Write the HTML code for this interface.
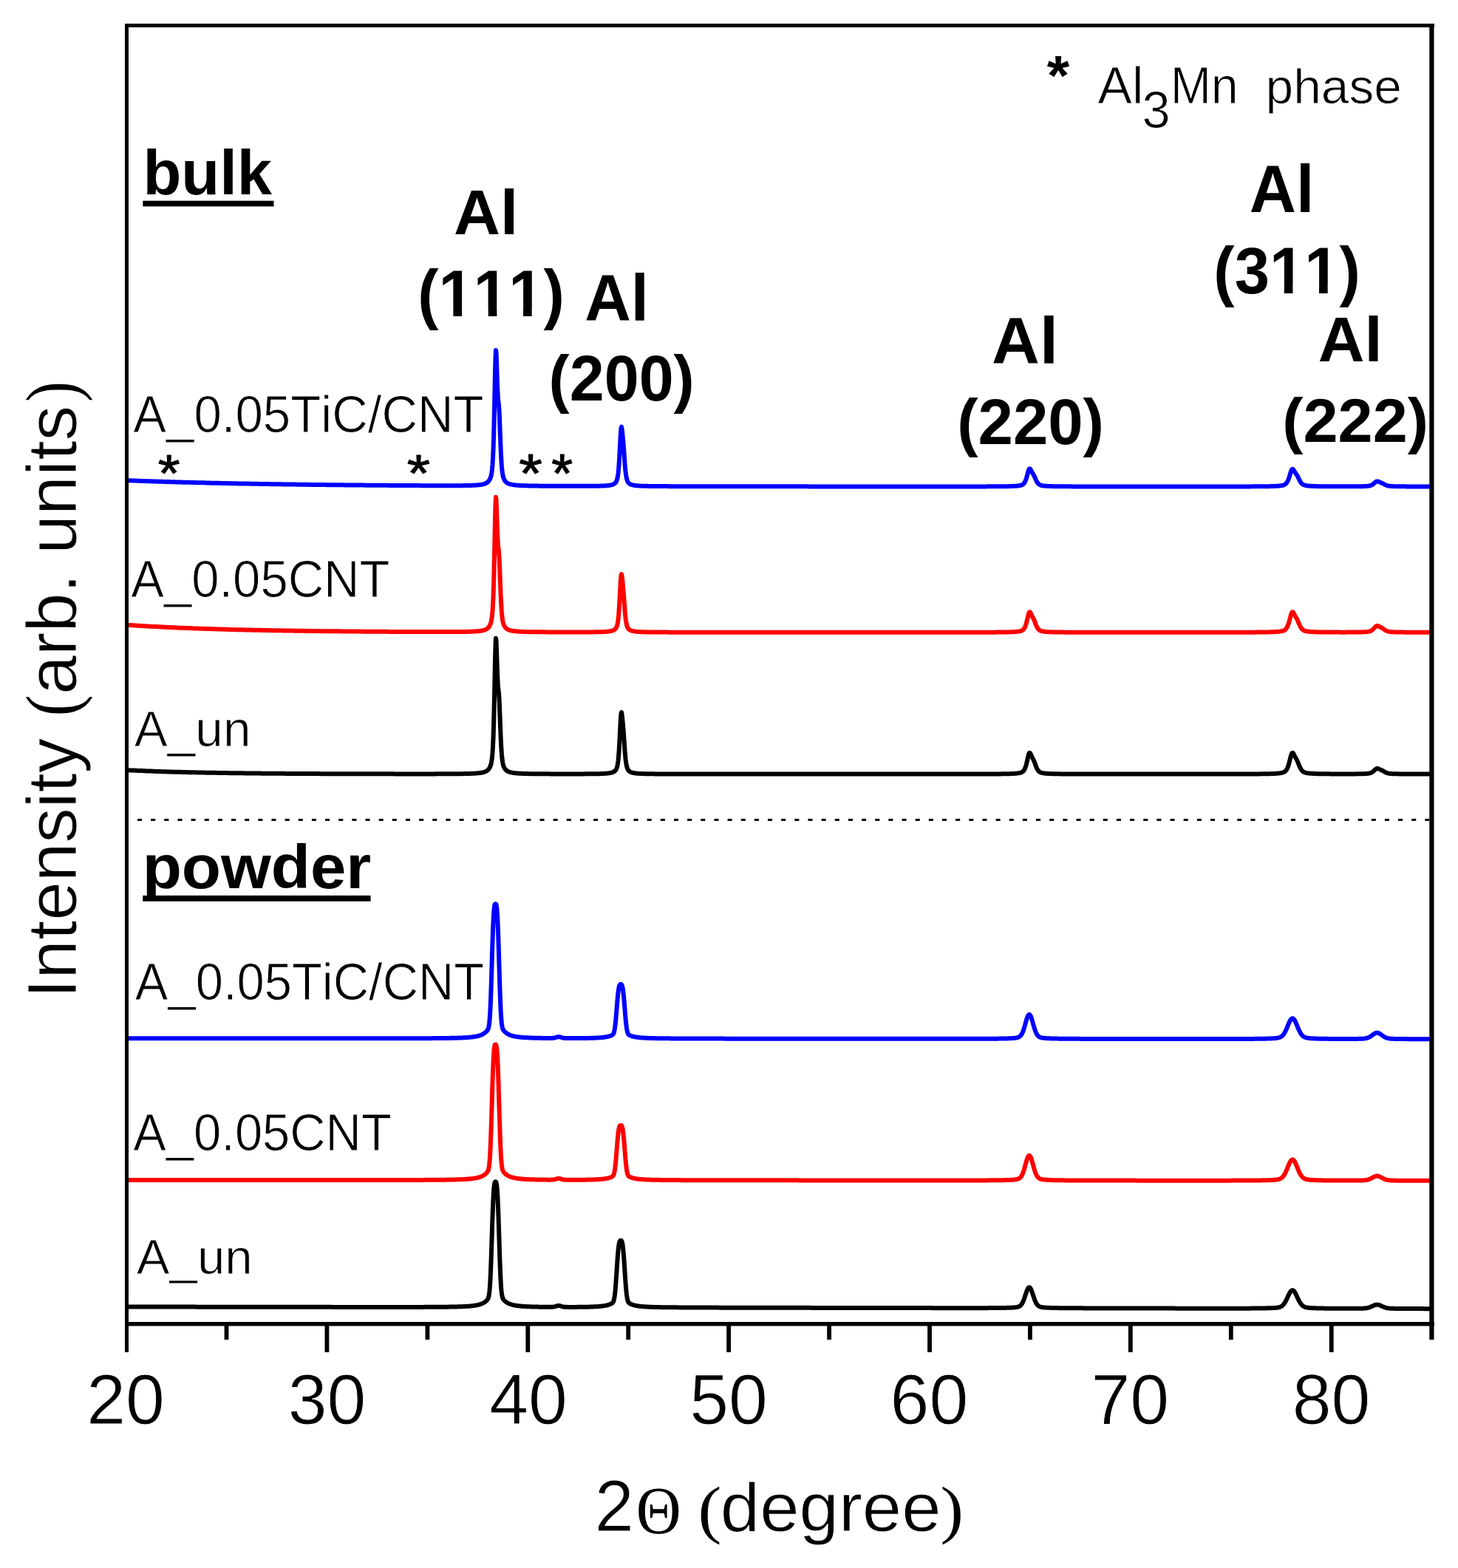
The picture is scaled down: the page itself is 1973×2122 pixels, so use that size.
<!DOCTYPE html>
<html><head><meta charset="utf-8"><title>XRD patterns</title><style>html,body{margin:0;padding:0;background:#fff;}svg{display:block;}</style></head>
<body>
<svg width="1973" height="2122" viewBox="0 0 1973 2122">
<rect width="1973" height="2122" fill="#fff"/>
<polyline points="171.5,650.15 175.5,650.30 179.5,650.45 183.5,650.60 187.5,650.75 191.5,650.89 195.5,651.04 199.5,651.17 203.5,651.31 207.5,651.44 211.5,651.57 215.5,651.70 219.5,651.83 223.5,651.95 227.5,652.08 231.5,652.19 235.5,652.31 239.5,652.43 243.5,652.54 247.5,652.65 251.5,652.76 255.5,652.87 259.5,652.97 263.5,653.07 267.5,653.17 271.5,653.27 275.5,653.37 279.5,653.46 283.5,653.56 287.5,653.65 291.5,653.74 295.5,653.83 299.5,653.91 303.5,654.00 307.5,654.08 311.5,654.16 315.5,654.25 319.5,654.32 323.5,654.40 327.5,654.48 331.5,654.55 335.5,654.62 339.5,654.70 343.5,654.77 347.5,654.84 351.5,654.90 355.5,654.97 359.5,655.04 363.5,655.10 367.5,655.16 371.5,655.22 375.5,655.28 379.5,655.34 383.5,655.40 387.5,655.46 391.5,655.52 395.5,655.57 399.5,655.62 403.5,655.68 407.5,655.73 411.5,655.78 415.5,655.83 419.5,655.88 423.5,655.93 427.5,655.97 431.5,656.02 435.5,656.07 439.5,656.11 443.5,656.15 447.5,656.20 451.5,656.24 455.5,656.28 459.5,656.32 463.5,656.36 467.5,656.40 471.5,656.44 475.5,656.47 479.5,656.51 483.5,656.54 487.5,656.58 491.5,656.61 495.5,656.65 499.5,656.68 503.5,656.71 507.5,656.74 511.5,656.77 515.5,656.80 519.5,656.83 523.5,656.86 527.5,656.89 531.5,656.92 535.5,656.94 539.5,656.97 543.5,656.99 547.5,657.02 551.5,657.04 555.5,657.06 559.5,657.08 563.5,657.10 567.5,657.12 571.5,657.14 575.5,657.16 579.5,657.17 583.5,657.19 587.5,657.20 591.5,657.21 595.5,657.22 599.5,657.23 603.5,657.23 605.0,657.23 606.5,657.23 608.0,657.23 609.5,657.22 611.0,657.22 612.5,657.22 614.0,657.21 615.5,657.21 617.0,657.20 618.5,657.20 620.0,657.19 621.5,657.18 623.0,657.17 624.5,657.15 626.0,657.14 627.5,657.12 629.0,657.10 630.5,657.07 632.0,657.04 633.5,657.01 635.0,656.98 636.5,656.93 637.0,656.92 637.5,656.90 638.0,656.89 638.5,656.87 639.0,656.85 639.5,656.83 640.0,656.81 640.5,656.79 641.0,656.76 641.5,656.74 642.0,656.71 642.5,656.69 643.0,656.66 643.5,656.63 644.0,656.60 644.5,656.56 645.0,656.53 645.5,656.49 646.0,656.45 646.5,656.40 647.0,656.36 647.5,656.31 648.0,656.26 648.5,656.20 649.0,656.14 649.5,656.08 650.0,656.01 650.5,655.94 651.0,655.86 651.5,655.78 652.0,655.69 652.5,655.59 653.0,655.49 653.5,655.37 654.0,655.25 654.5,655.11 655.0,654.97 655.5,654.81 656.0,654.63 656.5,654.44 657.0,654.22 657.5,653.99 658.0,653.73 658.5,653.44 659.0,653.11 659.5,652.75 660.0,652.34 660.5,651.87 661.0,651.34 661.5,650.73 662.0,650.03 662.5,649.22 663.0,648.26 663.5,647.12 664.0,645.73 664.5,643.99 665.0,641.74 665.5,638.71 666.0,634.54 666.5,628.69 667.0,620.53 667.5,609.36 668.0,594.55 668.5,575.79 669.0,553.31 669.5,528.30 670.0,503.53 670.5,483.68 671.0,474.02 671.5,476.88 672.0,489.35 672.5,505.63 673.0,520.83 673.5,532.30 674.0,539.58 674.5,543.99 675.0,548.26 675.5,555.21 676.0,565.87 676.5,579.02 677.0,592.65 677.5,605.24 678.0,616.05 678.5,624.85 679.0,631.70 679.5,636.88 680.0,640.72 680.5,643.53 681.0,645.63 681.5,647.21 682.0,648.45 682.5,649.46 683.0,650.29 683.5,650.99 684.0,651.59 684.5,652.12 685.0,652.58 685.5,652.98 686.0,653.34 686.5,653.66 687.0,653.94 687.5,654.20 688.0,654.43 688.5,654.64 689.0,654.83 689.5,655.01 690.0,655.17 690.5,655.31 691.0,655.44 691.5,655.57 692.0,655.68 692.5,655.79 693.0,655.88 693.5,655.98 694.0,656.06 694.5,656.14 695.0,656.21 695.5,656.28 696.0,656.35 696.5,656.41 697.0,656.46 697.5,656.52 698.0,656.57 698.5,656.62 699.0,656.66 699.5,656.70 700.0,656.74 700.5,656.78 701.0,656.82 701.5,656.85 702.0,656.89 702.5,656.92 703.0,656.95 703.5,656.98 704.0,657.00 704.5,657.03 705.0,657.05 705.5,657.08 706.0,657.10 707.5,657.16 709.0,657.22 710.5,657.27 712.0,657.31 713.5,657.35 715.0,657.39 716.5,657.42 718.0,657.45 719.5,657.48 721.0,657.51 722.5,657.53 724.0,657.55 725.5,657.57 727.0,657.59 728.5,657.61 730.0,657.63 731.5,657.64 733.0,657.66 734.5,657.67 736.0,657.68 737.5,657.69 739.0,657.70 740.5,657.72 742.0,657.73 746.0,657.75 750.0,657.77 754.0,657.79 758.0,657.81 762.0,657.82 766.0,657.83 770.0,657.84 774.0,657.85 775.5,657.85 777.0,657.85 778.5,657.85 780.0,657.85 781.5,657.85 783.0,657.85 784.5,657.85 786.0,657.85 787.5,657.85 789.0,657.85 790.5,657.84 792.0,657.84 793.5,657.83 795.0,657.83 796.5,657.82 798.0,657.81 799.5,657.80 801.0,657.79 802.5,657.78 804.0,657.76 805.5,657.74 807.0,657.72 807.5,657.71 808.0,657.71 808.5,657.70 809.0,657.69 809.5,657.68 810.0,657.67 810.5,657.66 811.0,657.65 811.5,657.63 812.0,657.62 812.5,657.61 813.0,657.59 813.5,657.58 814.0,657.56 814.5,657.55 815.0,657.53 815.5,657.51 816.0,657.49 816.5,657.47 817.0,657.44 817.5,657.42 818.0,657.39 818.5,657.37 819.0,657.34 819.5,657.30 820.0,657.27 820.5,657.23 821.0,657.19 821.5,657.15 822.0,657.10 822.5,657.05 823.0,657.00 823.5,656.94 824.0,656.88 824.5,656.81 825.0,656.73 825.5,656.65 826.0,656.56 826.5,656.45 827.0,656.34 827.5,656.22 828.0,656.08 828.5,655.93 829.0,655.76 829.5,655.56 830.0,655.34 830.5,655.09 831.0,654.81 831.5,654.48 832.0,654.10 832.5,653.65 833.0,653.11 833.5,652.45 834.0,651.61 834.5,650.52 835.0,649.07 835.5,647.10 836.0,644.41 836.5,640.80 837.0,636.02 837.5,629.89 838.0,622.33 838.5,613.42 839.0,603.55 839.5,593.58 840.0,584.93 840.5,579.30 841.0,577.69 841.5,579.66 842.0,583.78 842.5,588.71 843.0,593.92 843.5,599.54 844.0,605.91 844.5,612.96 845.0,620.17 845.5,626.95 846.0,632.91 846.5,637.90 847.0,641.95 847.5,645.13 848.0,647.59 848.5,649.46 849.0,650.87 849.5,651.94 850.0,652.76 850.5,653.40 851.0,653.92 851.5,654.35 852.0,654.71 852.5,655.02 853.0,655.29 853.5,655.53 854.0,655.73 854.5,655.92 855.0,656.08 855.5,656.23 856.0,656.36 856.5,656.48 857.0,656.58 857.5,656.68 858.0,656.77 858.5,656.85 859.0,656.92 859.5,656.99 860.0,657.06 860.5,657.11 861.0,657.17 861.5,657.22 862.0,657.26 862.5,657.31 863.0,657.35 863.5,657.38 864.0,657.42 864.5,657.45 865.0,657.48 865.5,657.51 866.0,657.54 866.5,657.56 867.0,657.59 867.5,657.61 868.0,657.63 868.5,657.65 869.0,657.67 869.5,657.69 870.0,657.71 870.5,657.72 871.0,657.74 871.5,657.75 872.0,657.77 872.5,657.78 873.0,657.79 873.5,657.81 874.0,657.82 874.5,657.83 875.0,657.84 875.5,657.85 876.0,657.86 877.5,657.89 879.0,657.91 880.5,657.94 882.0,657.96 883.5,657.97 885.0,657.99 886.5,658.01 888.0,658.02 889.5,658.03 891.0,658.05 892.5,658.06 894.0,658.07 895.5,658.08 897.0,658.09 898.5,658.09 900.0,658.10 901.5,658.11 903.0,658.12 904.5,658.12 906.0,658.13 907.5,658.14 909.0,658.14 910.5,658.15 912.0,658.15 916.0,658.16 920.0,658.18 924.0,658.19 928.0,658.20 932.0,658.21 936.0,658.21 940.0,658.22 944.0,658.23 948.0,658.24 952.0,658.24 956.0,658.25 960.0,658.26 964.0,658.26 968.0,658.27 972.0,658.27 976.0,658.28 980.0,658.28 984.0,658.29 988.0,658.29 992.0,658.30 996.0,658.30 1000.0,658.30 1004.0,658.31 1008.0,658.31 1012.0,658.32 1016.0,658.32 1020.0,658.32 1024.0,658.33 1028.0,658.33 1032.0,658.33 1036.0,658.34 1040.0,658.34 1044.0,658.34 1048.0,658.35 1052.0,658.35 1056.0,658.35 1060.0,658.35 1064.0,658.36 1068.0,658.36 1072.0,658.36 1076.0,658.36 1080.0,658.37 1084.0,658.37 1088.0,658.37 1092.0,658.37 1096.0,658.38 1100.0,658.38 1104.0,658.38 1108.0,658.38 1112.0,658.39 1116.0,658.39 1120.0,658.39 1124.0,658.39 1128.0,658.39 1132.0,658.39 1136.0,658.40 1140.0,658.40 1144.0,658.40 1148.0,658.40 1152.0,658.40 1156.0,658.40 1160.0,658.41 1164.0,658.41 1168.0,658.41 1172.0,658.41 1176.0,658.41 1180.0,658.41 1184.0,658.41 1188.0,658.41 1192.0,658.42 1196.0,658.42 1200.0,658.42 1204.0,658.42 1208.0,658.42 1212.0,658.42 1216.0,658.42 1220.0,658.42 1224.0,658.42 1228.0,658.42 1232.0,658.42 1236.0,658.43 1240.0,658.43 1244.0,658.43 1248.0,658.43 1252.0,658.43 1256.0,658.43 1260.0,658.43 1264.0,658.43 1268.0,658.43 1272.0,658.43 1276.0,658.43 1280.0,658.43 1284.0,658.42 1288.0,658.42 1292.0,658.42 1296.0,658.42 1300.0,658.42 1304.0,658.42 1308.0,658.41 1312.0,658.41 1316.0,658.41 1320.0,658.40 1324.0,658.40 1325.5,658.39 1327.0,658.39 1328.5,658.39 1330.0,658.39 1331.5,658.38 1333.0,658.38 1334.5,658.38 1336.0,658.37 1337.5,658.37 1339.0,658.36 1340.5,658.36 1342.0,658.35 1343.5,658.35 1345.0,658.34 1346.5,658.33 1348.0,658.32 1349.5,658.32 1351.0,658.31 1352.5,658.29 1354.0,658.28 1355.5,658.27 1357.0,658.25 1358.5,658.24 1359.0,658.23 1359.5,658.22 1360.0,658.22 1360.5,658.21 1361.0,658.20 1361.5,658.19 1362.0,658.19 1362.5,658.18 1363.0,658.17 1363.5,658.16 1364.0,658.15 1364.5,658.14 1365.0,658.13 1365.5,658.12 1366.0,658.10 1366.5,658.09 1367.0,658.08 1367.5,658.06 1368.0,658.05 1368.5,658.03 1369.0,658.02 1369.5,658.00 1370.0,657.98 1370.5,657.96 1371.0,657.94 1371.5,657.91 1372.0,657.89 1372.5,657.86 1373.0,657.84 1373.5,657.81 1374.0,657.77 1374.5,657.74 1375.0,657.70 1375.5,657.66 1376.0,657.62 1376.5,657.57 1377.0,657.52 1377.5,657.47 1378.0,657.41 1378.5,657.34 1379.0,657.27 1379.5,657.19 1380.0,657.10 1380.5,657.00 1381.0,656.89 1381.5,656.76 1382.0,656.62 1382.5,656.44 1383.0,656.24 1383.5,656.00 1384.0,655.71 1384.5,655.35 1385.0,654.92 1385.5,654.40 1386.0,653.78 1386.5,653.02 1387.0,652.13 1387.5,651.07 1388.0,649.86 1388.5,648.47 1389.0,646.91 1389.5,645.20 1390.0,643.37 1390.5,641.48 1391.0,639.59 1391.5,637.81 1392.0,636.29 1392.5,635.14 1393.0,634.46 1393.5,634.30 1394.0,634.61 1394.5,635.28 1395.0,636.17 1395.5,637.15 1396.0,638.13 1396.5,639.05 1397.0,639.89 1397.5,640.67 1398.0,641.42 1398.5,642.21 1399.0,643.08 1399.5,644.06 1400.0,645.15 1400.5,646.31 1401.0,647.50 1401.5,648.67 1402.0,649.78 1402.5,650.82 1403.0,651.76 1403.5,652.61 1404.0,653.36 1404.5,654.01 1405.0,654.58 1405.5,655.06 1406.0,655.47 1406.5,655.81 1407.0,656.10 1407.5,656.34 1408.0,656.55 1408.5,656.72 1409.0,656.86 1409.5,656.99 1410.0,657.10 1410.5,657.19 1411.0,657.28 1411.5,657.35 1412.0,657.42 1412.5,657.48 1413.0,657.54 1413.5,657.59 1414.0,657.64 1414.5,657.68 1415.0,657.72 1415.5,657.75 1416.0,657.79 1416.5,657.82 1417.0,657.85 1417.5,657.88 1418.0,657.90 1418.5,657.93 1419.0,657.95 1419.5,657.97 1420.0,657.99 1420.5,658.01 1421.0,658.03 1421.5,658.04 1422.0,658.06 1422.5,658.08 1423.0,658.09 1423.5,658.10 1424.0,658.12 1424.5,658.13 1425.0,658.14 1425.5,658.15 1426.0,658.16 1426.5,658.17 1427.0,658.18 1427.5,658.19 1428.0,658.20 1429.5,658.22 1431.0,658.24 1432.5,658.26 1434.0,658.28 1435.5,658.29 1437.0,658.30 1438.5,658.31 1440.0,658.32 1441.5,658.33 1443.0,658.34 1444.5,658.35 1446.0,658.36 1447.5,658.36 1449.0,658.37 1450.5,658.38 1452.0,658.38 1453.5,658.39 1455.0,658.39 1456.5,658.39 1458.0,658.40 1459.5,658.40 1461.0,658.40 1462.5,658.41 1464.0,658.41 1468.0,658.42 1472.0,658.42 1476.0,658.43 1480.0,658.43 1484.0,658.44 1488.0,658.44 1492.0,658.44 1496.0,658.45 1500.0,658.45 1504.0,658.45 1508.0,658.45 1512.0,658.45 1516.0,658.45 1520.0,658.46 1524.0,658.46 1528.0,658.46 1532.0,658.46 1536.0,658.46 1540.0,658.46 1544.0,658.46 1548.0,658.46 1552.0,658.46 1556.0,658.46 1560.0,658.46 1564.0,658.46 1568.0,658.46 1572.0,658.46 1576.0,658.46 1580.0,658.46 1584.0,658.46 1588.0,658.46 1592.0,658.46 1596.0,658.46 1600.0,658.46 1604.0,658.46 1608.0,658.46 1612.0,658.46 1616.0,658.46 1620.0,658.46 1624.0,658.46 1628.0,658.46 1632.0,658.46 1636.0,658.45 1640.0,658.45 1644.0,658.45 1648.0,658.45 1652.0,658.45 1656.0,658.44 1660.0,658.44 1664.0,658.43 1668.0,658.43 1672.0,658.42 1676.0,658.42 1680.0,658.41 1681.5,658.41 1683.0,658.40 1684.5,658.40 1686.0,658.40 1687.5,658.39 1689.0,658.39 1690.5,658.38 1692.0,658.38 1693.5,658.37 1695.0,658.37 1696.5,658.36 1698.0,658.35 1699.5,658.34 1701.0,658.33 1702.5,658.33 1704.0,658.31 1705.5,658.30 1707.0,658.29 1708.5,658.28 1710.0,658.26 1711.5,658.24 1713.0,658.22 1714.5,658.20 1715.0,658.19 1715.5,658.19 1716.0,658.18 1716.5,658.17 1717.0,658.16 1717.5,658.15 1718.0,658.14 1718.5,658.13 1719.0,658.12 1719.5,658.10 1720.0,658.09 1720.5,658.08 1721.0,658.06 1721.5,658.05 1722.0,658.03 1722.5,658.02 1723.0,658.00 1723.5,657.98 1724.0,657.96 1724.5,657.94 1725.0,657.92 1725.5,657.90 1726.0,657.87 1726.5,657.85 1727.0,657.82 1727.5,657.79 1728.0,657.76 1728.5,657.73 1729.0,657.69 1729.5,657.66 1730.0,657.62 1730.5,657.57 1731.0,657.53 1731.5,657.48 1732.0,657.42 1732.5,657.36 1733.0,657.30 1733.5,657.23 1734.0,657.15 1734.5,657.06 1735.0,656.97 1735.5,656.86 1736.0,656.74 1736.5,656.60 1737.0,656.44 1737.5,656.25 1738.0,656.03 1738.5,655.77 1739.0,655.47 1739.5,655.10 1740.0,654.67 1740.5,654.16 1741.0,653.56 1741.5,652.85 1742.0,652.03 1742.5,651.09 1743.0,650.01 1743.5,648.81 1744.0,647.47 1744.5,646.02 1745.0,644.46 1745.5,642.83 1746.0,641.17 1746.5,639.54 1747.0,638.03 1747.5,636.72 1748.0,635.70 1748.5,635.05 1749.0,634.79 1749.5,634.91 1750.0,635.35 1750.5,636.01 1751.0,636.80 1751.5,637.65 1752.0,638.49 1752.5,639.29 1753.0,640.04 1753.5,640.74 1754.0,641.43 1754.5,642.14 1755.0,642.90 1755.5,643.75 1756.0,644.67 1756.5,645.67 1757.0,646.72 1757.5,647.77 1758.0,648.80 1758.5,649.79 1759.0,650.71 1759.5,651.57 1760.0,652.35 1760.5,653.05 1761.0,653.67 1761.5,654.22 1762.0,654.70 1762.5,655.12 1763.0,655.48 1763.5,655.79 1764.0,656.06 1764.5,656.28 1765.0,656.48 1765.5,656.65 1766.0,656.79 1766.5,656.91 1767.0,657.02 1767.5,657.12 1768.0,657.20 1768.5,657.28 1769.0,657.35 1769.5,657.41 1770.0,657.47 1770.5,657.52 1771.0,657.57 1771.5,657.61 1772.0,657.65 1772.5,657.69 1773.0,657.73 1773.5,657.76 1774.0,657.79 1774.5,657.82 1775.0,657.85 1775.5,657.87 1776.0,657.89 1776.5,657.92 1777.0,657.94 1777.5,657.96 1778.0,657.98 1778.5,657.99 1779.0,658.01 1779.5,658.03 1780.0,658.04 1780.5,658.06 1781.0,658.07 1781.5,658.08 1782.0,658.10 1782.5,658.11 1783.0,658.12 1783.5,658.13 1784.0,658.14 1785.5,658.17 1787.0,658.19 1788.5,658.21 1790.0,658.23 1791.5,658.25 1793.0,658.26 1794.5,658.27 1796.0,658.29 1797.5,658.30 1799.0,658.30 1800.5,658.31 1802.0,658.32 1803.5,658.33 1805.0,658.33 1806.5,658.34 1808.0,658.34 1809.5,658.34 1811.0,658.35 1812.5,658.35 1814.0,658.35 1815.5,658.35 1817.0,658.35 1818.5,658.35 1820.0,658.35 1821.5,658.35 1823.0,658.35 1824.5,658.35 1826.0,658.34 1827.5,658.34 1829.0,658.33 1829.5,658.33 1830.0,658.33 1830.5,658.32 1831.0,658.32 1831.5,658.32 1832.0,658.32 1832.5,658.31 1833.0,658.31 1833.5,658.31 1834.0,658.30 1834.5,658.30 1835.0,658.30 1835.5,658.29 1836.0,658.29 1836.5,658.28 1837.0,658.28 1837.5,658.27 1838.0,658.27 1838.5,658.26 1839.0,658.25 1839.5,658.25 1840.0,658.24 1840.5,658.23 1841.0,658.22 1841.5,658.21 1842.0,658.20 1842.5,658.19 1843.0,658.18 1843.5,658.17 1844.0,658.16 1844.5,658.14 1845.0,658.13 1845.5,658.11 1846.0,658.09 1846.5,658.08 1847.0,658.05 1847.5,658.03 1848.0,658.01 1848.5,657.98 1849.0,657.95 1849.5,657.91 1850.0,657.87 1850.5,657.83 1851.0,657.78 1851.5,657.72 1852.0,657.65 1852.5,657.56 1853.0,657.47 1853.5,657.36 1854.0,657.23 1854.5,657.08 1855.0,656.90 1855.5,656.70 1856.0,656.47 1856.5,656.21 1857.0,655.92 1857.5,655.60 1858.0,655.24 1858.5,654.86 1859.0,654.44 1859.5,654.01 1860.0,653.57 1860.5,653.12 1861.0,652.69 1861.5,652.29 1862.0,651.94 1862.5,651.66 1863.0,651.48 1863.5,651.38 1864.0,651.38 1864.5,651.46 1865.0,651.61 1865.5,651.80 1866.0,652.02 1866.5,652.24 1867.0,652.47 1867.5,652.68 1868.0,652.89 1868.5,653.08 1869.0,653.28 1869.5,653.47 1870.0,653.68 1870.5,653.91 1871.0,654.15 1871.5,654.42 1872.0,654.70 1872.5,654.99 1873.0,655.27 1873.5,655.55 1874.0,655.82 1874.5,656.08 1875.0,656.32 1875.5,656.54 1876.0,656.74 1876.5,656.92 1877.0,657.08 1877.5,657.22 1878.0,657.35 1878.5,657.46 1879.0,657.56 1879.5,657.65 1880.0,657.72 1880.5,657.79 1881.0,657.84 1881.5,657.89 1882.0,657.94 1882.5,657.97 1883.0,658.01 1883.5,658.04 1884.0,658.06 1884.5,658.09 1885.0,658.11 1885.5,658.13 1886.0,658.15 1886.5,658.16 1887.0,658.18 1887.5,658.19 1888.0,658.20 1888.5,658.22 1889.0,658.23 1889.5,658.24 1890.0,658.25 1890.5,658.26 1891.0,658.27 1891.5,658.27 1892.0,658.28 1892.5,658.29 1893.0,658.30 1893.5,658.30 1894.0,658.31 1894.5,658.32 1895.0,658.32 1895.5,658.33 1896.0,658.33 1896.5,658.34 1897.0,658.34 1897.5,658.35 1898.0,658.35 1898.5,658.35 1900.0,658.36 1901.5,658.37 1903.0,658.38 1904.5,658.39 1906.0,658.40 1907.5,658.40 1909.0,658.41 1910.5,658.41 1912.0,658.42 1913.5,658.42 1915.0,658.43 1916.5,658.43 1918.0,658.43 1919.5,658.44 1921.0,658.44 1922.5,658.44 1924.0,658.44 1925.5,658.45 1927.0,658.45 1928.5,658.45 1930.0,658.45 1931.5,658.45 1933.0,658.46 1934.5,658.46 1937.0,658.46" fill="none" stroke="#0000ff" stroke-width="6.0" stroke-linejoin="round" stroke-linecap="butt"/>
<polyline points="171.5,845.70 175.5,845.97 179.5,846.23 183.5,846.49 187.5,846.74 191.5,846.99 195.5,847.23 199.5,847.46 203.5,847.68 207.5,847.90 211.5,848.12 215.5,848.32 219.5,848.52 223.5,848.72 227.5,848.91 231.5,849.10 235.5,849.28 239.5,849.45 243.5,849.63 247.5,849.79 251.5,849.95 255.5,850.11 259.5,850.27 263.5,850.42 267.5,850.56 271.5,850.70 275.5,850.84 279.5,850.97 283.5,851.10 287.5,851.23 291.5,851.35 295.5,851.47 299.5,851.59 303.5,851.70 307.5,851.81 311.5,851.92 315.5,852.03 319.5,852.13 323.5,852.23 327.5,852.32 331.5,852.42 335.5,852.51 339.5,852.60 343.5,852.68 347.5,852.77 351.5,852.85 355.5,852.93 359.5,853.00 363.5,853.08 367.5,853.15 371.5,853.22 375.5,853.29 379.5,853.36 383.5,853.42 387.5,853.49 391.5,853.55 395.5,853.61 399.5,853.67 403.5,853.73 407.5,853.78 411.5,853.83 415.5,853.89 419.5,853.94 423.5,853.99 427.5,854.04 431.5,854.08 435.5,854.13 439.5,854.17 443.5,854.21 447.5,854.26 451.5,854.30 455.5,854.34 459.5,854.37 463.5,854.41 467.5,854.45 471.5,854.48 475.5,854.52 479.5,854.55 483.5,854.58 487.5,854.61 491.5,854.64 495.5,854.67 499.5,854.70 503.5,854.73 507.5,854.76 511.5,854.78 515.5,854.81 519.5,854.83 523.5,854.85 527.5,854.88 531.5,854.90 535.5,854.92 539.5,854.94 543.5,854.96 547.5,854.98 551.5,854.99 555.5,855.01 559.5,855.02 563.5,855.04 567.5,855.05 571.5,855.06 575.5,855.08 579.5,855.09 583.5,855.09 587.5,855.10 591.5,855.10 595.5,855.11 599.5,855.11 603.5,855.10 605.0,855.10 606.5,855.10 608.0,855.10 609.5,855.09 611.0,855.09 612.5,855.08 614.0,855.07 615.5,855.07 617.0,855.06 618.5,855.05 620.0,855.04 621.5,855.03 623.0,855.01 624.5,855.00 626.0,854.98 627.5,854.96 629.0,854.93 630.5,854.91 632.0,854.88 633.5,854.84 635.0,854.81 636.5,854.76 637.0,854.74 637.5,854.73 638.0,854.71 638.5,854.69 639.0,854.67 639.5,854.65 640.0,854.63 640.5,854.61 641.0,854.58 641.5,854.56 642.0,854.53 642.5,854.51 643.0,854.48 643.5,854.44 644.0,854.41 644.5,854.38 645.0,854.34 645.5,854.30 646.0,854.26 646.5,854.22 647.0,854.17 647.5,854.12 648.0,854.07 648.5,854.02 649.0,853.96 649.5,853.89 650.0,853.82 650.5,853.75 651.0,853.67 651.5,853.59 652.0,853.50 652.5,853.40 653.0,853.30 653.5,853.18 654.0,853.06 654.5,852.92 655.0,852.78 655.5,852.62 656.0,852.44 656.5,852.25 657.0,852.03 657.5,851.80 658.0,851.54 658.5,851.25 659.0,850.93 659.5,850.56 660.0,850.15 660.5,849.69 661.0,849.16 661.5,848.56 662.0,847.86 662.5,847.05 663.0,846.10 663.5,844.96 664.0,843.58 664.5,841.85 665.0,839.61 665.5,836.60 666.0,832.45 666.5,826.63 667.0,818.52 667.5,807.40 668.0,792.68 668.5,774.02 669.0,751.66 669.5,726.80 670.0,702.17 670.5,682.42 671.0,672.82 671.5,675.66 672.0,688.06 672.5,704.25 673.0,719.36 673.5,730.77 674.0,738.01 674.5,742.39 675.0,746.63 675.5,753.54 676.0,764.15 676.5,777.22 677.0,790.77 677.5,803.30 678.0,814.05 678.5,822.79 679.0,829.61 679.5,834.76 680.0,838.57 680.5,841.37 681.0,843.45 681.5,845.03 682.0,846.26 682.5,847.26 683.0,848.08 683.5,848.78 684.0,849.38 684.5,849.90 685.0,850.35 685.5,850.76 686.0,851.11 686.5,851.43 687.0,851.71 687.5,851.97 688.0,852.20 688.5,852.40 689.0,852.59 689.5,852.77 690.0,852.92 690.5,853.07 691.0,853.20 691.5,853.32 692.0,853.43 692.5,853.54 693.0,853.63 693.5,853.72 694.0,853.81 694.5,853.88 695.0,853.96 695.5,854.02 696.0,854.09 696.5,854.15 697.0,854.20 697.5,854.26 698.0,854.31 698.5,854.35 699.0,854.40 699.5,854.44 700.0,854.48 700.5,854.52 701.0,854.55 701.5,854.58 702.0,854.62 702.5,854.65 703.0,854.68 703.5,854.70 704.0,854.73 704.5,854.76 705.0,854.78 705.5,854.80 706.0,854.82 707.5,854.89 709.0,854.94 710.5,854.99 712.0,855.03 713.5,855.07 715.0,855.10 716.5,855.13 718.0,855.16 719.5,855.19 721.0,855.21 722.5,855.23 724.0,855.25 725.5,855.27 727.0,855.28 728.5,855.30 730.0,855.31 731.5,855.33 733.0,855.34 734.5,855.35 736.0,855.36 737.5,855.37 739.0,855.38 740.5,855.39 742.0,855.40 746.0,855.42 750.0,855.43 754.0,855.45 758.0,855.46 762.0,855.47 766.0,855.47 770.0,855.48 774.0,855.48 775.5,855.48 777.0,855.48 778.5,855.48 780.0,855.48 781.5,855.48 783.0,855.48 784.5,855.47 786.0,855.47 787.5,855.47 789.0,855.46 790.5,855.46 792.0,855.45 793.5,855.45 795.0,855.44 796.5,855.43 798.0,855.42 799.5,855.41 801.0,855.40 802.5,855.38 804.0,855.36 805.5,855.34 807.0,855.32 807.5,855.31 808.0,855.31 808.5,855.30 809.0,855.29 809.5,855.28 810.0,855.27 810.5,855.26 811.0,855.24 811.5,855.23 812.0,855.22 812.5,855.20 813.0,855.19 813.5,855.18 814.0,855.16 814.5,855.14 815.0,855.12 815.5,855.10 816.0,855.08 816.5,855.06 817.0,855.04 817.5,855.02 818.0,854.99 818.5,854.96 819.0,854.93 819.5,854.90 820.0,854.87 820.5,854.83 821.0,854.79 821.5,854.75 822.0,854.70 822.5,854.65 823.0,854.60 823.5,854.54 824.0,854.48 824.5,854.41 825.0,854.33 825.5,854.25 826.0,854.16 826.5,854.06 827.0,853.95 827.5,853.83 828.0,853.70 828.5,853.54 829.0,853.38 829.5,853.19 830.0,852.97 830.5,852.73 831.0,852.45 831.5,852.13 832.0,851.75 832.5,851.31 833.0,850.78 833.5,850.13 834.0,849.31 834.5,848.25 835.0,846.83 835.5,844.90 836.0,842.27 836.5,838.73 837.0,834.06 837.5,828.06 838.0,820.66 838.5,811.94 839.0,802.29 839.5,792.53 840.0,784.08 840.5,778.57 841.0,776.99 841.5,778.92 842.0,782.94 842.5,787.77 843.0,792.86 843.5,798.36 844.0,804.59 844.5,811.49 845.0,818.55 845.5,825.18 846.0,831.01 846.5,835.89 847.0,839.85 847.5,842.97 848.0,845.37 848.5,847.19 849.0,848.57 849.5,849.62 850.0,850.42 850.5,851.05 851.0,851.56 851.5,851.98 852.0,852.34 852.5,852.64 853.0,852.90 853.5,853.13 854.0,853.33 854.5,853.51 855.0,853.67 855.5,853.81 856.0,853.94 856.5,854.05 857.0,854.16 857.5,854.25 858.0,854.34 858.5,854.42 859.0,854.49 859.5,854.56 860.0,854.62 860.5,854.67 861.0,854.73 861.5,854.77 862.0,854.82 862.5,854.86 863.0,854.90 863.5,854.93 864.0,854.97 864.5,855.00 865.0,855.03 865.5,855.06 866.0,855.08 866.5,855.11 867.0,855.13 867.5,855.15 868.0,855.17 868.5,855.19 869.0,855.21 869.5,855.23 870.0,855.25 870.5,855.26 871.0,855.28 871.5,855.29 872.0,855.30 872.5,855.32 873.0,855.33 873.5,855.34 874.0,855.35 874.5,855.36 875.0,855.37 875.5,855.38 876.0,855.39 877.5,855.42 879.0,855.44 880.5,855.46 882.0,855.48 883.5,855.50 885.0,855.51 886.5,855.53 888.0,855.54 889.5,855.55 891.0,855.56 892.5,855.57 894.0,855.58 895.5,855.59 897.0,855.59 898.5,855.60 900.0,855.61 901.5,855.61 903.0,855.62 904.5,855.63 906.0,855.63 907.5,855.63 909.0,855.64 910.5,855.64 912.0,855.65 916.0,855.66 920.0,855.67 924.0,855.67 928.0,855.68 932.0,855.69 936.0,855.69 940.0,855.70 944.0,855.70 948.0,855.71 952.0,855.71 956.0,855.71 960.0,855.72 964.0,855.72 968.0,855.72 972.0,855.73 976.0,855.73 980.0,855.73 984.0,855.73 988.0,855.73 992.0,855.74 996.0,855.74 1000.0,855.74 1004.0,855.74 1008.0,855.74 1012.0,855.75 1016.0,855.75 1020.0,855.75 1024.0,855.75 1028.0,855.75 1032.0,855.75 1036.0,855.75 1040.0,855.75 1044.0,855.76 1048.0,855.76 1052.0,855.76 1056.0,855.76 1060.0,855.76 1064.0,855.76 1068.0,855.76 1072.0,855.76 1076.0,855.76 1080.0,855.76 1084.0,855.76 1088.0,855.77 1092.0,855.77 1096.0,855.77 1100.0,855.77 1104.0,855.77 1108.0,855.77 1112.0,855.77 1116.0,855.77 1120.0,855.77 1124.0,855.77 1128.0,855.77 1132.0,855.77 1136.0,855.77 1140.0,855.77 1144.0,855.77 1148.0,855.77 1152.0,855.77 1156.0,855.77 1160.0,855.77 1164.0,855.77 1168.0,855.77 1172.0,855.77 1176.0,855.77 1180.0,855.77 1184.0,855.77 1188.0,855.77 1192.0,855.77 1196.0,855.77 1200.0,855.77 1204.0,855.77 1208.0,855.77 1212.0,855.77 1216.0,855.77 1220.0,855.77 1224.0,855.77 1228.0,855.77 1232.0,855.77 1236.0,855.77 1240.0,855.77 1244.0,855.77 1248.0,855.77 1252.0,855.77 1256.0,855.77 1260.0,855.77 1264.0,855.77 1268.0,855.77 1272.0,855.77 1276.0,855.76 1280.0,855.76 1284.0,855.76 1288.0,855.76 1292.0,855.76 1296.0,855.75 1300.0,855.75 1304.0,855.75 1308.0,855.74 1312.0,855.74 1316.0,855.73 1320.0,855.73 1324.0,855.72 1325.5,855.72 1327.0,855.72 1328.5,855.71 1330.0,855.71 1331.5,855.71 1333.0,855.70 1334.5,855.70 1336.0,855.69 1337.5,855.69 1339.0,855.68 1340.5,855.67 1342.0,855.67 1343.5,855.66 1345.0,855.65 1346.5,855.64 1348.0,855.64 1349.5,855.62 1351.0,855.61 1352.5,855.60 1354.0,855.59 1355.5,855.57 1357.0,855.55 1358.5,855.53 1359.0,855.52 1359.5,855.52 1360.0,855.51 1360.5,855.50 1361.0,855.49 1361.5,855.48 1362.0,855.47 1362.5,855.46 1363.0,855.45 1363.5,855.44 1364.0,855.43 1364.5,855.42 1365.0,855.41 1365.5,855.39 1366.0,855.38 1366.5,855.37 1367.0,855.35 1367.5,855.33 1368.0,855.32 1368.5,855.30 1369.0,855.28 1369.5,855.26 1370.0,855.24 1370.5,855.21 1371.0,855.19 1371.5,855.16 1372.0,855.14 1372.5,855.11 1373.0,855.07 1373.5,855.04 1374.0,855.00 1374.5,854.96 1375.0,854.92 1375.5,854.88 1376.0,854.83 1376.5,854.77 1377.0,854.72 1377.5,854.65 1378.0,854.59 1378.5,854.51 1379.0,854.43 1379.5,854.34 1380.0,854.24 1380.5,854.12 1381.0,853.99 1381.5,853.85 1382.0,853.68 1382.5,853.48 1383.0,853.25 1383.5,852.97 1384.0,852.64 1384.5,852.24 1385.0,851.75 1385.5,851.15 1386.0,850.44 1386.5,849.57 1387.0,848.55 1387.5,847.35 1388.0,845.96 1388.5,844.37 1389.0,842.60 1389.5,840.65 1390.0,838.56 1390.5,836.39 1391.0,834.24 1391.5,832.21 1392.0,830.47 1392.5,829.15 1393.0,828.39 1393.5,828.20 1394.0,828.55 1394.5,829.31 1395.0,830.33 1395.5,831.45 1396.0,832.58 1396.5,833.63 1397.0,834.58 1397.5,835.47 1398.0,836.33 1398.5,837.23 1399.0,838.22 1399.5,839.34 1400.0,840.58 1400.5,841.91 1401.0,843.26 1401.5,844.60 1402.0,845.87 1402.5,847.06 1403.0,848.14 1403.5,849.11 1404.0,849.96 1404.5,850.71 1405.0,851.35 1405.5,851.90 1406.0,852.36 1406.5,852.76 1407.0,853.09 1407.5,853.36 1408.0,853.60 1408.5,853.79 1409.0,853.96 1409.5,854.10 1410.0,854.23 1410.5,854.34 1411.0,854.43 1411.5,854.52 1412.0,854.59 1412.5,854.66 1413.0,854.73 1413.5,854.79 1414.0,854.84 1414.5,854.89 1415.0,854.93 1415.5,854.97 1416.0,855.01 1416.5,855.05 1417.0,855.08 1417.5,855.12 1418.0,855.14 1418.5,855.17 1419.0,855.20 1419.5,855.22 1420.0,855.24 1420.5,855.27 1421.0,855.29 1421.5,855.31 1422.0,855.32 1422.5,855.34 1423.0,855.36 1423.5,855.37 1424.0,855.39 1424.5,855.40 1425.0,855.41 1425.5,855.42 1426.0,855.44 1426.5,855.45 1427.0,855.46 1427.5,855.47 1428.0,855.48 1429.5,855.51 1431.0,855.53 1432.5,855.55 1434.0,855.57 1435.5,855.58 1437.0,855.60 1438.5,855.61 1440.0,855.62 1441.5,855.63 1443.0,855.64 1444.5,855.65 1446.0,855.66 1447.5,855.67 1449.0,855.67 1450.5,855.68 1452.0,855.69 1453.5,855.69 1455.0,855.70 1456.5,855.70 1458.0,855.70 1459.5,855.71 1461.0,855.71 1462.5,855.72 1464.0,855.72 1468.0,855.73 1472.0,855.73 1476.0,855.74 1480.0,855.74 1484.0,855.75 1488.0,855.75 1492.0,855.75 1496.0,855.76 1500.0,855.76 1504.0,855.76 1508.0,855.76 1512.0,855.76 1516.0,855.76 1520.0,855.77 1524.0,855.77 1528.0,855.77 1532.0,855.77 1536.0,855.77 1540.0,855.77 1544.0,855.77 1548.0,855.77 1552.0,855.77 1556.0,855.77 1560.0,855.77 1564.0,855.77 1568.0,855.77 1572.0,855.77 1576.0,855.77 1580.0,855.77 1584.0,855.77 1588.0,855.77 1592.0,855.77 1596.0,855.77 1600.0,855.77 1604.0,855.77 1608.0,855.77 1612.0,855.77 1616.0,855.76 1620.0,855.76 1624.0,855.76 1628.0,855.76 1632.0,855.76 1636.0,855.76 1640.0,855.75 1644.0,855.75 1648.0,855.75 1652.0,855.75 1656.0,855.74 1660.0,855.74 1664.0,855.73 1668.0,855.73 1672.0,855.72 1676.0,855.71 1680.0,855.70 1681.5,855.70 1683.0,855.70 1684.5,855.69 1686.0,855.69 1687.5,855.68 1689.0,855.68 1690.5,855.67 1692.0,855.66 1693.5,855.66 1695.0,855.65 1696.5,855.64 1698.0,855.63 1699.5,855.62 1701.0,855.61 1702.5,855.60 1704.0,855.59 1705.5,855.58 1707.0,855.56 1708.5,855.55 1710.0,855.53 1711.5,855.51 1713.0,855.48 1714.5,855.46 1715.0,855.45 1715.5,855.44 1716.0,855.43 1716.5,855.42 1717.0,855.41 1717.5,855.40 1718.0,855.38 1718.5,855.37 1719.0,855.36 1719.5,855.34 1720.0,855.33 1720.5,855.31 1721.0,855.30 1721.5,855.28 1722.0,855.26 1722.5,855.24 1723.0,855.22 1723.5,855.20 1724.0,855.18 1724.5,855.16 1725.0,855.13 1725.5,855.11 1726.0,855.08 1726.5,855.05 1727.0,855.02 1727.5,854.98 1728.0,854.95 1728.5,854.91 1729.0,854.87 1729.5,854.82 1730.0,854.78 1730.5,854.73 1731.0,854.67 1731.5,854.61 1732.0,854.55 1732.5,854.48 1733.0,854.40 1733.5,854.32 1734.0,854.23 1734.5,854.13 1735.0,854.02 1735.5,853.89 1736.0,853.75 1736.5,853.59 1737.0,853.40 1737.5,853.18 1738.0,852.93 1738.5,852.63 1739.0,852.27 1739.5,851.85 1740.0,851.34 1740.5,850.75 1741.0,850.05 1741.5,849.22 1742.0,848.27 1742.5,847.17 1743.0,845.92 1743.5,844.52 1744.0,842.96 1744.5,841.26 1745.0,839.45 1745.5,837.55 1746.0,835.62 1746.5,833.72 1747.0,831.96 1747.5,830.43 1748.0,829.25 1748.5,828.49 1749.0,828.19 1749.5,828.33 1750.0,828.83 1750.5,829.60 1751.0,830.53 1751.5,831.52 1752.0,832.50 1752.5,833.43 1753.0,834.30 1753.5,835.12 1754.0,835.92 1754.5,836.74 1755.0,837.63 1755.5,838.62 1756.0,839.70 1756.5,840.87 1757.0,842.08 1757.5,843.30 1758.0,844.51 1758.5,845.66 1759.0,846.74 1759.5,847.73 1760.0,848.64 1760.5,849.45 1761.0,850.18 1761.5,850.82 1762.0,851.38 1762.5,851.87 1763.0,852.29 1763.5,852.65 1764.0,852.96 1764.5,853.22 1765.0,853.45 1765.5,853.64 1766.0,853.81 1766.5,853.96 1767.0,854.08 1767.5,854.20 1768.0,854.29 1768.5,854.38 1769.0,854.46 1769.5,854.54 1770.0,854.60 1770.5,854.66 1771.0,854.72 1771.5,854.77 1772.0,854.82 1772.5,854.86 1773.0,854.90 1773.5,854.94 1774.0,854.98 1774.5,855.01 1775.0,855.04 1775.5,855.07 1776.0,855.10 1776.5,855.12 1777.0,855.15 1777.5,855.17 1778.0,855.19 1778.5,855.21 1779.0,855.23 1779.5,855.25 1780.0,855.27 1780.5,855.29 1781.0,855.30 1781.5,855.32 1782.0,855.33 1782.5,855.35 1783.0,855.36 1783.5,855.37 1784.0,855.38 1785.5,855.41 1787.0,855.44 1788.5,855.47 1790.0,855.49 1791.5,855.51 1793.0,855.52 1794.5,855.54 1796.0,855.55 1797.5,855.56 1799.0,855.57 1800.5,855.58 1802.0,855.59 1803.5,855.60 1805.0,855.60 1806.5,855.61 1808.0,855.61 1809.5,855.62 1811.0,855.62 1812.5,855.62 1814.0,855.63 1815.5,855.63 1817.0,855.63 1818.5,855.63 1820.0,855.63 1821.5,855.62 1823.0,855.62 1824.5,855.62 1826.0,855.61 1827.5,855.61 1829.0,855.60 1829.5,855.60 1830.0,855.59 1830.5,855.59 1831.0,855.59 1831.5,855.58 1832.0,855.58 1832.5,855.58 1833.0,855.57 1833.5,855.57 1834.0,855.56 1834.5,855.56 1835.0,855.55 1835.5,855.55 1836.0,855.54 1836.5,855.54 1837.0,855.53 1837.5,855.52 1838.0,855.51 1838.5,855.51 1839.0,855.50 1839.5,855.49 1840.0,855.48 1840.5,855.47 1841.0,855.46 1841.5,855.45 1842.0,855.44 1842.5,855.42 1843.0,855.41 1843.5,855.39 1844.0,855.38 1844.5,855.36 1845.0,855.34 1845.5,855.32 1846.0,855.30 1846.5,855.28 1847.0,855.25 1847.5,855.22 1848.0,855.19 1848.5,855.15 1849.0,855.12 1849.5,855.07 1850.0,855.02 1850.5,854.96 1851.0,854.90 1851.5,854.82 1852.0,854.74 1852.5,854.63 1853.0,854.51 1853.5,854.37 1854.0,854.21 1854.5,854.02 1855.0,853.80 1855.5,853.55 1856.0,853.26 1856.5,852.94 1857.0,852.57 1857.5,852.16 1858.0,851.72 1858.5,851.24 1859.0,850.72 1859.5,850.18 1860.0,849.62 1860.5,849.06 1861.0,848.52 1861.5,848.02 1862.0,847.58 1862.5,847.24 1863.0,847.00 1863.5,846.88 1864.0,846.88 1864.5,846.98 1865.0,847.16 1865.5,847.40 1866.0,847.68 1866.5,847.96 1867.0,848.24 1867.5,848.51 1868.0,848.77 1868.5,849.01 1869.0,849.25 1869.5,849.50 1870.0,849.76 1870.5,850.05 1871.0,850.36 1871.5,850.69 1872.0,851.04 1872.5,851.40 1873.0,851.76 1873.5,852.11 1874.0,852.45 1874.5,852.77 1875.0,853.07 1875.5,853.34 1876.0,853.59 1876.5,853.82 1877.0,854.02 1877.5,854.20 1878.0,854.36 1878.5,854.50 1879.0,854.63 1879.5,854.74 1880.0,854.83 1880.5,854.91 1881.0,854.98 1881.5,855.05 1882.0,855.10 1882.5,855.15 1883.0,855.19 1883.5,855.23 1884.0,855.26 1884.5,855.29 1885.0,855.31 1885.5,855.34 1886.0,855.36 1886.5,855.38 1887.0,855.40 1887.5,855.42 1888.0,855.43 1888.5,855.45 1889.0,855.46 1889.5,855.48 1890.0,855.49 1890.5,855.50 1891.0,855.51 1891.5,855.52 1892.0,855.53 1892.5,855.54 1893.0,855.55 1893.5,855.56 1894.0,855.57 1894.5,855.57 1895.0,855.58 1895.5,855.59 1896.0,855.59 1896.5,855.60 1897.0,855.61 1897.5,855.61 1898.0,855.62 1898.5,855.62 1900.0,855.64 1901.5,855.65 1903.0,855.66 1904.5,855.67 1906.0,855.68 1907.5,855.68 1909.0,855.69 1910.5,855.70 1912.0,855.70 1913.5,855.71 1915.0,855.71 1916.5,855.72 1918.0,855.72 1919.5,855.72 1921.0,855.73 1922.5,855.73 1924.0,855.73 1925.5,855.74 1927.0,855.74 1928.5,855.74 1930.0,855.74 1931.5,855.75 1933.0,855.75 1934.5,855.75 1937.0,855.75" fill="none" stroke="#ff0000" stroke-width="6.0" stroke-linejoin="round" stroke-linecap="butt"/>
<polyline points="171.5,1042.20 175.5,1042.40 179.5,1042.59 183.5,1042.77 187.5,1042.95 191.5,1043.12 195.5,1043.29 199.5,1043.45 203.5,1043.60 207.5,1043.75 211.5,1043.89 215.5,1044.03 219.5,1044.16 223.5,1044.29 227.5,1044.41 231.5,1044.53 235.5,1044.64 239.5,1044.75 243.5,1044.86 247.5,1044.96 251.5,1045.06 255.5,1045.15 259.5,1045.24 263.5,1045.33 267.5,1045.41 271.5,1045.49 275.5,1045.57 279.5,1045.64 283.5,1045.72 287.5,1045.79 291.5,1045.85 295.5,1045.92 299.5,1045.98 303.5,1046.04 307.5,1046.10 311.5,1046.15 315.5,1046.20 319.5,1046.26 323.5,1046.30 327.5,1046.35 331.5,1046.40 335.5,1046.44 339.5,1046.48 343.5,1046.52 347.5,1046.56 351.5,1046.60 355.5,1046.64 359.5,1046.67 363.5,1046.71 367.5,1046.74 371.5,1046.77 375.5,1046.80 379.5,1046.83 383.5,1046.86 387.5,1046.88 391.5,1046.91 395.5,1046.93 399.5,1046.96 403.5,1046.98 407.5,1047.00 411.5,1047.02 415.5,1047.04 419.5,1047.06 423.5,1047.08 427.5,1047.10 431.5,1047.12 435.5,1047.14 439.5,1047.15 443.5,1047.17 447.5,1047.18 451.5,1047.20 455.5,1047.21 459.5,1047.22 463.5,1047.23 467.5,1047.25 471.5,1047.26 475.5,1047.27 479.5,1047.28 483.5,1047.29 487.5,1047.30 491.5,1047.31 495.5,1047.32 499.5,1047.32 503.5,1047.33 507.5,1047.34 511.5,1047.35 515.5,1047.35 519.5,1047.36 523.5,1047.36 527.5,1047.37 531.5,1047.37 535.5,1047.38 539.5,1047.38 543.5,1047.39 547.5,1047.39 551.5,1047.39 555.5,1047.39 559.5,1047.39 563.5,1047.39 567.5,1047.39 571.5,1047.39 575.5,1047.39 579.5,1047.39 583.5,1047.38 587.5,1047.38 591.5,1047.37 595.5,1047.36 599.5,1047.35 603.5,1047.33 605.0,1047.33 606.5,1047.32 608.0,1047.31 609.5,1047.31 611.0,1047.30 612.5,1047.29 614.0,1047.28 615.5,1047.27 617.0,1047.25 618.5,1047.24 620.0,1047.22 621.5,1047.21 623.0,1047.19 624.5,1047.17 626.0,1047.15 627.5,1047.12 629.0,1047.10 630.5,1047.07 632.0,1047.03 633.5,1047.00 635.0,1046.96 636.5,1046.91 637.0,1046.89 637.5,1046.87 638.0,1046.85 638.5,1046.83 639.0,1046.81 639.5,1046.79 640.0,1046.77 640.5,1046.74 641.0,1046.72 641.5,1046.69 642.0,1046.67 642.5,1046.64 643.0,1046.61 643.5,1046.57 644.0,1046.54 644.5,1046.50 645.0,1046.47 645.5,1046.43 646.0,1046.38 646.5,1046.34 647.0,1046.29 647.5,1046.24 648.0,1046.19 648.5,1046.13 649.0,1046.07 649.5,1046.01 650.0,1045.94 650.5,1045.86 651.0,1045.78 651.5,1045.70 652.0,1045.60 652.5,1045.50 653.0,1045.40 653.5,1045.28 654.0,1045.16 654.5,1045.02 655.0,1044.87 655.5,1044.71 656.0,1044.53 656.5,1044.34 657.0,1044.12 657.5,1043.88 658.0,1043.62 658.5,1043.33 659.0,1043.00 659.5,1042.63 660.0,1042.22 660.5,1041.75 661.0,1041.22 661.5,1040.61 662.0,1039.91 662.5,1039.09 663.0,1038.13 663.5,1036.99 664.0,1035.60 664.5,1033.86 665.0,1031.60 665.5,1028.57 666.0,1024.39 666.5,1018.53 667.0,1010.36 667.5,999.18 668.0,984.36 668.5,965.58 669.0,943.08 669.5,918.05 670.0,893.26 670.5,873.38 671.0,863.72 671.5,866.58 672.0,879.06 672.5,895.36 673.0,910.56 673.5,922.04 674.0,929.32 674.5,933.74 675.0,938.00 675.5,944.96 676.0,955.63 676.5,968.79 677.0,982.43 677.5,995.03 678.0,1005.85 678.5,1014.65 679.0,1021.51 679.5,1026.69 680.0,1030.52 680.5,1033.34 681.0,1035.43 681.5,1037.02 682.0,1038.26 682.5,1039.26 683.0,1040.09 683.5,1040.79 684.0,1041.40 684.5,1041.92 685.0,1042.38 685.5,1042.78 686.0,1043.14 686.5,1043.46 687.0,1043.74 687.5,1044.00 688.0,1044.23 688.5,1044.44 689.0,1044.62 689.5,1044.80 690.0,1044.95 690.5,1045.10 691.0,1045.23 691.5,1045.35 692.0,1045.46 692.5,1045.57 693.0,1045.66 693.5,1045.75 694.0,1045.84 694.5,1045.91 695.0,1045.99 695.5,1046.05 696.0,1046.12 696.5,1046.18 697.0,1046.23 697.5,1046.28 698.0,1046.33 698.5,1046.38 699.0,1046.42 699.5,1046.46 700.0,1046.50 700.5,1046.54 701.0,1046.58 701.5,1046.61 702.0,1046.64 702.5,1046.67 703.0,1046.70 703.5,1046.73 704.0,1046.75 704.5,1046.78 705.0,1046.80 705.5,1046.82 706.0,1046.84 707.5,1046.90 709.0,1046.95 710.5,1047.00 712.0,1047.04 713.5,1047.08 715.0,1047.11 716.5,1047.14 718.0,1047.16 719.5,1047.19 721.0,1047.21 722.5,1047.23 724.0,1047.25 725.5,1047.26 727.0,1047.28 728.5,1047.29 730.0,1047.30 731.5,1047.31 733.0,1047.32 734.5,1047.33 736.0,1047.34 737.5,1047.35 739.0,1047.36 740.5,1047.37 742.0,1047.37 746.0,1047.39 750.0,1047.40 754.0,1047.41 758.0,1047.41 762.0,1047.42 766.0,1047.42 770.0,1047.42 774.0,1047.42 775.5,1047.42 777.0,1047.42 778.5,1047.41 780.0,1047.41 781.5,1047.41 783.0,1047.41 784.5,1047.40 786.0,1047.40 787.5,1047.39 789.0,1047.39 790.5,1047.38 792.0,1047.37 793.5,1047.36 795.0,1047.35 796.5,1047.34 798.0,1047.33 799.5,1047.32 801.0,1047.30 802.5,1047.29 804.0,1047.27 805.5,1047.24 807.0,1047.22 807.5,1047.21 808.0,1047.20 808.5,1047.19 809.0,1047.18 809.5,1047.17 810.0,1047.16 810.5,1047.15 811.0,1047.13 811.5,1047.12 812.0,1047.11 812.5,1047.09 813.0,1047.07 813.5,1047.06 814.0,1047.04 814.5,1047.02 815.0,1047.00 815.5,1046.98 816.0,1046.96 816.5,1046.94 817.0,1046.91 817.5,1046.89 818.0,1046.86 818.5,1046.83 819.0,1046.79 819.5,1046.76 820.0,1046.72 820.5,1046.68 821.0,1046.64 821.5,1046.60 822.0,1046.55 822.5,1046.50 823.0,1046.44 823.5,1046.38 824.0,1046.31 824.5,1046.24 825.0,1046.16 825.5,1046.07 826.0,1045.97 826.5,1045.87 827.0,1045.75 827.5,1045.62 828.0,1045.48 828.5,1045.31 829.0,1045.13 829.5,1044.93 830.0,1044.70 830.5,1044.44 831.0,1044.15 831.5,1043.81 832.0,1043.41 832.5,1042.94 833.0,1042.38 833.5,1041.69 834.0,1040.82 834.5,1039.68 835.0,1038.17 835.5,1036.12 836.0,1033.34 836.5,1029.58 837.0,1024.61 837.5,1018.24 838.0,1010.38 838.5,1001.12 839.0,990.86 839.5,980.50 840.0,971.52 840.5,965.67 841.0,963.99 841.5,966.04 842.0,970.31 842.5,975.44 843.0,980.85 843.5,986.69 844.0,993.31 844.5,1000.63 845.0,1008.13 845.5,1015.17 846.0,1021.36 846.5,1026.55 847.0,1030.76 847.5,1034.07 848.0,1036.62 848.5,1038.56 849.0,1040.02 849.5,1041.13 850.0,1041.98 850.5,1042.65 851.0,1043.19 851.5,1043.64 852.0,1044.01 852.5,1044.33 853.0,1044.61 853.5,1044.86 854.0,1045.07 854.5,1045.26 855.0,1045.43 855.5,1045.58 856.0,1045.72 856.5,1045.84 857.0,1045.95 857.5,1046.05 858.0,1046.14 858.5,1046.22 859.0,1046.30 859.5,1046.37 860.0,1046.43 860.5,1046.49 861.0,1046.55 861.5,1046.60 862.0,1046.65 862.5,1046.69 863.0,1046.73 863.5,1046.77 864.0,1046.80 864.5,1046.84 865.0,1046.87 865.5,1046.90 866.0,1046.92 866.5,1046.95 867.0,1046.97 867.5,1047.00 868.0,1047.02 868.5,1047.04 869.0,1047.06 869.5,1047.08 870.0,1047.09 870.5,1047.11 871.0,1047.13 871.5,1047.14 872.0,1047.16 872.5,1047.17 873.0,1047.18 873.5,1047.19 874.0,1047.21 874.5,1047.22 875.0,1047.23 875.5,1047.24 876.0,1047.25 877.5,1047.27 879.0,1047.30 880.5,1047.32 882.0,1047.34 883.5,1047.35 885.0,1047.37 886.5,1047.38 888.0,1047.40 889.5,1047.41 891.0,1047.42 892.5,1047.43 894.0,1047.44 895.5,1047.44 897.0,1047.45 898.5,1047.46 900.0,1047.46 901.5,1047.47 903.0,1047.48 904.5,1047.48 906.0,1047.49 907.5,1047.49 909.0,1047.49 910.5,1047.50 912.0,1047.50 916.0,1047.51 920.0,1047.52 924.0,1047.52 928.0,1047.53 932.0,1047.53 936.0,1047.54 940.0,1047.54 944.0,1047.55 948.0,1047.55 952.0,1047.55 956.0,1047.55 960.0,1047.56 964.0,1047.56 968.0,1047.56 972.0,1047.56 976.0,1047.56 980.0,1047.57 984.0,1047.57 988.0,1047.57 992.0,1047.57 996.0,1047.57 1000.0,1047.57 1004.0,1047.57 1008.0,1047.57 1012.0,1047.57 1016.0,1047.58 1020.0,1047.58 1024.0,1047.58 1028.0,1047.58 1032.0,1047.58 1036.0,1047.58 1040.0,1047.58 1044.0,1047.58 1048.0,1047.58 1052.0,1047.58 1056.0,1047.58 1060.0,1047.58 1064.0,1047.58 1068.0,1047.58 1072.0,1047.58 1076.0,1047.58 1080.0,1047.58 1084.0,1047.58 1088.0,1047.58 1092.0,1047.58 1096.0,1047.58 1100.0,1047.58 1104.0,1047.58 1108.0,1047.58 1112.0,1047.58 1116.0,1047.58 1120.0,1047.58 1124.0,1047.58 1128.0,1047.58 1132.0,1047.58 1136.0,1047.58 1140.0,1047.58 1144.0,1047.58 1148.0,1047.58 1152.0,1047.58 1156.0,1047.58 1160.0,1047.58 1164.0,1047.58 1168.0,1047.58 1172.0,1047.58 1176.0,1047.58 1180.0,1047.58 1184.0,1047.58 1188.0,1047.58 1192.0,1047.58 1196.0,1047.58 1200.0,1047.58 1204.0,1047.58 1208.0,1047.58 1212.0,1047.58 1216.0,1047.58 1220.0,1047.58 1224.0,1047.58 1228.0,1047.58 1232.0,1047.58 1236.0,1047.58 1240.0,1047.58 1244.0,1047.58 1248.0,1047.58 1252.0,1047.58 1256.0,1047.57 1260.0,1047.57 1264.0,1047.57 1268.0,1047.57 1272.0,1047.57 1276.0,1047.57 1280.0,1047.57 1284.0,1047.56 1288.0,1047.56 1292.0,1047.56 1296.0,1047.56 1300.0,1047.55 1304.0,1047.55 1308.0,1047.55 1312.0,1047.54 1316.0,1047.54 1320.0,1047.53 1324.0,1047.52 1325.5,1047.52 1327.0,1047.52 1328.5,1047.51 1330.0,1047.51 1331.5,1047.50 1333.0,1047.50 1334.5,1047.50 1336.0,1047.49 1337.5,1047.48 1339.0,1047.48 1340.5,1047.47 1342.0,1047.47 1343.5,1047.46 1345.0,1047.45 1346.5,1047.44 1348.0,1047.43 1349.5,1047.42 1351.0,1047.41 1352.5,1047.39 1354.0,1047.38 1355.5,1047.36 1357.0,1047.34 1358.5,1047.32 1359.0,1047.32 1359.5,1047.31 1360.0,1047.30 1360.5,1047.29 1361.0,1047.28 1361.5,1047.27 1362.0,1047.26 1362.5,1047.25 1363.0,1047.24 1363.5,1047.23 1364.0,1047.22 1364.5,1047.20 1365.0,1047.19 1365.5,1047.18 1366.0,1047.16 1366.5,1047.15 1367.0,1047.13 1367.5,1047.11 1368.0,1047.10 1368.5,1047.08 1369.0,1047.06 1369.5,1047.04 1370.0,1047.01 1370.5,1046.99 1371.0,1046.96 1371.5,1046.94 1372.0,1046.91 1372.5,1046.88 1373.0,1046.84 1373.5,1046.81 1374.0,1046.77 1374.5,1046.73 1375.0,1046.68 1375.5,1046.64 1376.0,1046.58 1376.5,1046.53 1377.0,1046.47 1377.5,1046.40 1378.0,1046.33 1378.5,1046.25 1379.0,1046.17 1379.5,1046.07 1380.0,1045.96 1380.5,1045.85 1381.0,1045.71 1381.5,1045.56 1382.0,1045.38 1382.5,1045.18 1383.0,1044.93 1383.5,1044.64 1384.0,1044.29 1384.5,1043.87 1385.0,1043.36 1385.5,1042.74 1386.0,1041.98 1386.5,1041.08 1387.0,1040.01 1387.5,1038.76 1388.0,1037.30 1388.5,1035.64 1389.0,1033.78 1389.5,1031.74 1390.0,1029.55 1390.5,1027.28 1391.0,1025.02 1391.5,1022.90 1392.0,1021.07 1392.5,1019.70 1393.0,1018.89 1393.5,1018.70 1394.0,1019.07 1394.5,1019.87 1395.0,1020.93 1395.5,1022.11 1396.0,1023.28 1396.5,1024.38 1397.0,1025.39 1397.5,1026.31 1398.0,1027.21 1398.5,1028.15 1399.0,1029.19 1399.5,1030.37 1400.0,1031.67 1400.5,1033.05 1401.0,1034.48 1401.5,1035.87 1402.0,1037.21 1402.5,1038.45 1403.0,1039.58 1403.5,1040.59 1404.0,1041.49 1404.5,1042.27 1405.0,1042.94 1405.5,1043.52 1406.0,1044.00 1406.5,1044.42 1407.0,1044.76 1407.5,1045.05 1408.0,1045.29 1408.5,1045.50 1409.0,1045.67 1409.5,1045.83 1410.0,1045.96 1410.5,1046.07 1411.0,1046.17 1411.5,1046.26 1412.0,1046.34 1412.5,1046.41 1413.0,1046.48 1413.5,1046.54 1414.0,1046.60 1414.5,1046.65 1415.0,1046.69 1415.5,1046.74 1416.0,1046.78 1416.5,1046.82 1417.0,1046.85 1417.5,1046.89 1418.0,1046.92 1418.5,1046.94 1419.0,1046.97 1419.5,1047.00 1420.0,1047.02 1420.5,1047.04 1421.0,1047.06 1421.5,1047.08 1422.0,1047.10 1422.5,1047.12 1423.0,1047.14 1423.5,1047.15 1424.0,1047.17 1424.5,1047.18 1425.0,1047.20 1425.5,1047.21 1426.0,1047.22 1426.5,1047.23 1427.0,1047.24 1427.5,1047.26 1428.0,1047.27 1429.5,1047.29 1431.0,1047.32 1432.5,1047.34 1434.0,1047.36 1435.5,1047.38 1437.0,1047.39 1438.5,1047.40 1440.0,1047.42 1441.5,1047.43 1443.0,1047.44 1444.5,1047.45 1446.0,1047.46 1447.5,1047.46 1449.0,1047.47 1450.5,1047.48 1452.0,1047.48 1453.5,1047.49 1455.0,1047.49 1456.5,1047.50 1458.0,1047.50 1459.5,1047.51 1461.0,1047.51 1462.5,1047.51 1464.0,1047.52 1468.0,1047.52 1472.0,1047.53 1476.0,1047.54 1480.0,1047.54 1484.0,1047.55 1488.0,1047.55 1492.0,1047.55 1496.0,1047.56 1500.0,1047.56 1504.0,1047.56 1508.0,1047.56 1512.0,1047.56 1516.0,1047.56 1520.0,1047.57 1524.0,1047.57 1528.0,1047.57 1532.0,1047.57 1536.0,1047.57 1540.0,1047.57 1544.0,1047.57 1548.0,1047.57 1552.0,1047.57 1556.0,1047.57 1560.0,1047.57 1564.0,1047.57 1568.0,1047.57 1572.0,1047.57 1576.0,1047.57 1580.0,1047.57 1584.0,1047.57 1588.0,1047.57 1592.0,1047.57 1596.0,1047.57 1600.0,1047.57 1604.0,1047.57 1608.0,1047.57 1612.0,1047.57 1616.0,1047.56 1620.0,1047.56 1624.0,1047.56 1628.0,1047.56 1632.0,1047.56 1636.0,1047.56 1640.0,1047.55 1644.0,1047.55 1648.0,1047.55 1652.0,1047.54 1656.0,1047.54 1660.0,1047.54 1664.0,1047.53 1668.0,1047.52 1672.0,1047.52 1676.0,1047.51 1680.0,1047.50 1681.5,1047.50 1683.0,1047.49 1684.5,1047.49 1686.0,1047.48 1687.5,1047.48 1689.0,1047.47 1690.5,1047.47 1692.0,1047.46 1693.5,1047.45 1695.0,1047.44 1696.5,1047.44 1698.0,1047.43 1699.5,1047.42 1701.0,1047.41 1702.5,1047.40 1704.0,1047.38 1705.5,1047.37 1707.0,1047.35 1708.5,1047.34 1710.0,1047.32 1711.5,1047.30 1713.0,1047.27 1714.5,1047.24 1715.0,1047.23 1715.5,1047.22 1716.0,1047.21 1716.5,1047.20 1717.0,1047.19 1717.5,1047.18 1718.0,1047.17 1718.5,1047.15 1719.0,1047.14 1719.5,1047.12 1720.0,1047.11 1720.5,1047.09 1721.0,1047.08 1721.5,1047.06 1722.0,1047.04 1722.5,1047.02 1723.0,1047.00 1723.5,1046.98 1724.0,1046.95 1724.5,1046.93 1725.0,1046.90 1725.5,1046.88 1726.0,1046.85 1726.5,1046.81 1727.0,1046.78 1727.5,1046.75 1728.0,1046.71 1728.5,1046.67 1729.0,1046.63 1729.5,1046.58 1730.0,1046.53 1730.5,1046.48 1731.0,1046.42 1731.5,1046.36 1732.0,1046.29 1732.5,1046.22 1733.0,1046.14 1733.5,1046.05 1734.0,1045.96 1734.5,1045.85 1735.0,1045.74 1735.5,1045.60 1736.0,1045.46 1736.5,1045.29 1737.0,1045.09 1737.5,1044.86 1738.0,1044.60 1738.5,1044.28 1739.0,1043.91 1739.5,1043.46 1740.0,1042.94 1740.5,1042.31 1741.0,1041.58 1741.5,1040.72 1742.0,1039.72 1742.5,1038.57 1743.0,1037.26 1743.5,1035.79 1744.0,1034.16 1744.5,1032.38 1745.0,1030.48 1745.5,1028.49 1746.0,1026.47 1746.5,1024.48 1747.0,1022.64 1747.5,1021.04 1748.0,1019.80 1748.5,1019.01 1749.0,1018.69 1749.5,1018.84 1750.0,1019.37 1750.5,1020.17 1751.0,1021.14 1751.5,1022.18 1752.0,1023.20 1752.5,1024.18 1753.0,1025.09 1753.5,1025.95 1754.0,1026.78 1754.5,1027.65 1755.0,1028.58 1755.5,1029.61 1756.0,1030.75 1756.5,1031.96 1757.0,1033.24 1757.5,1034.52 1758.0,1035.78 1758.5,1036.98 1759.0,1038.11 1759.5,1039.16 1760.0,1040.10 1760.5,1040.96 1761.0,1041.72 1761.5,1042.39 1762.0,1042.98 1762.5,1043.49 1763.0,1043.93 1763.5,1044.30 1764.0,1044.63 1764.5,1044.91 1765.0,1045.14 1765.5,1045.35 1766.0,1045.52 1766.5,1045.67 1767.0,1045.81 1767.5,1045.92 1768.0,1046.03 1768.5,1046.12 1769.0,1046.20 1769.5,1046.28 1770.0,1046.35 1770.5,1046.41 1771.0,1046.47 1771.5,1046.52 1772.0,1046.57 1772.5,1046.62 1773.0,1046.66 1773.5,1046.70 1774.0,1046.74 1774.5,1046.78 1775.0,1046.81 1775.5,1046.84 1776.0,1046.87 1776.5,1046.90 1777.0,1046.92 1777.5,1046.95 1778.0,1046.97 1778.5,1046.99 1779.0,1047.01 1779.5,1047.03 1780.0,1047.05 1780.5,1047.07 1781.0,1047.08 1781.5,1047.10 1782.0,1047.11 1782.5,1047.13 1783.0,1047.14 1783.5,1047.16 1784.0,1047.17 1785.5,1047.20 1787.0,1047.23 1788.5,1047.26 1790.0,1047.28 1791.5,1047.30 1793.0,1047.32 1794.5,1047.33 1796.0,1047.35 1797.5,1047.36 1799.0,1047.37 1800.5,1047.38 1802.0,1047.39 1803.5,1047.40 1805.0,1047.40 1806.5,1047.41 1808.0,1047.42 1809.5,1047.42 1811.0,1047.42 1812.5,1047.43 1814.0,1047.43 1815.5,1047.43 1817.0,1047.43 1818.5,1047.43 1820.0,1047.43 1821.5,1047.43 1823.0,1047.43 1824.5,1047.43 1826.0,1047.42 1827.5,1047.42 1829.0,1047.41 1829.5,1047.41 1830.0,1047.41 1830.5,1047.41 1831.0,1047.40 1831.5,1047.40 1832.0,1047.40 1832.5,1047.40 1833.0,1047.39 1833.5,1047.39 1834.0,1047.39 1834.5,1047.38 1835.0,1047.38 1835.5,1047.37 1836.0,1047.37 1836.5,1047.36 1837.0,1047.36 1837.5,1047.35 1838.0,1047.34 1838.5,1047.34 1839.0,1047.33 1839.5,1047.32 1840.0,1047.32 1840.5,1047.31 1841.0,1047.30 1841.5,1047.29 1842.0,1047.28 1842.5,1047.27 1843.0,1047.26 1843.5,1047.24 1844.0,1047.23 1844.5,1047.21 1845.0,1047.20 1845.5,1047.18 1846.0,1047.16 1846.5,1047.14 1847.0,1047.12 1847.5,1047.10 1848.0,1047.07 1848.5,1047.04 1849.0,1047.01 1849.5,1046.97 1850.0,1046.93 1850.5,1046.88 1851.0,1046.82 1851.5,1046.76 1852.0,1046.68 1852.5,1046.60 1853.0,1046.49 1853.5,1046.37 1854.0,1046.23 1854.5,1046.07 1855.0,1045.89 1855.5,1045.67 1856.0,1045.42 1856.5,1045.15 1857.0,1044.83 1857.5,1044.49 1858.0,1044.11 1858.5,1043.70 1859.0,1043.26 1859.5,1042.79 1860.0,1042.32 1860.5,1041.84 1861.0,1041.38 1861.5,1040.95 1862.0,1040.58 1862.5,1040.28 1863.0,1040.08 1863.5,1039.97 1864.0,1039.97 1864.5,1040.06 1865.0,1040.22 1865.5,1040.42 1866.0,1040.66 1866.5,1040.90 1867.0,1041.14 1867.5,1041.37 1868.0,1041.59 1868.5,1041.80 1869.0,1042.00 1869.5,1042.21 1870.0,1042.44 1870.5,1042.68 1871.0,1042.94 1871.5,1043.23 1872.0,1043.53 1872.5,1043.84 1873.0,1044.14 1873.5,1044.44 1874.0,1044.73 1874.5,1045.01 1875.0,1045.26 1875.5,1045.50 1876.0,1045.71 1876.5,1045.90 1877.0,1046.08 1877.5,1046.23 1878.0,1046.37 1878.5,1046.49 1879.0,1046.59 1879.5,1046.69 1880.0,1046.77 1880.5,1046.84 1881.0,1046.90 1881.5,1046.95 1882.0,1047.00 1882.5,1047.04 1883.0,1047.07 1883.5,1047.10 1884.0,1047.13 1884.5,1047.16 1885.0,1047.18 1885.5,1047.20 1886.0,1047.22 1886.5,1047.24 1887.0,1047.25 1887.5,1047.27 1888.0,1047.28 1888.5,1047.30 1889.0,1047.31 1889.5,1047.32 1890.0,1047.33 1890.5,1047.34 1891.0,1047.35 1891.5,1047.36 1892.0,1047.37 1892.5,1047.37 1893.0,1047.38 1893.5,1047.39 1894.0,1047.40 1894.5,1047.40 1895.0,1047.41 1895.5,1047.41 1896.0,1047.42 1896.5,1047.42 1897.0,1047.43 1897.5,1047.43 1898.0,1047.44 1898.5,1047.44 1900.0,1047.46 1901.5,1047.47 1903.0,1047.47 1904.5,1047.48 1906.0,1047.49 1907.5,1047.50 1909.0,1047.50 1910.5,1047.51 1912.0,1047.51 1913.5,1047.52 1915.0,1047.52 1916.5,1047.53 1918.0,1047.53 1919.5,1047.53 1921.0,1047.54 1922.5,1047.54 1924.0,1047.54 1925.5,1047.54 1927.0,1047.55 1928.5,1047.55 1930.0,1047.55 1931.5,1047.55 1933.0,1047.55 1934.5,1047.55 1937.0,1047.56" fill="none" stroke="#000000" stroke-width="6.0" stroke-linejoin="round" stroke-linecap="butt"/>
<polyline points="171.5,1405.19 175.5,1405.19 179.5,1405.19 183.5,1405.19 187.5,1405.20 191.5,1405.20 195.5,1405.20 199.5,1405.20 203.5,1405.21 207.5,1405.21 211.5,1405.21 215.5,1405.21 219.5,1405.22 223.5,1405.22 227.5,1405.22 231.5,1405.22 235.5,1405.22 239.5,1405.23 243.5,1405.23 247.5,1405.23 251.5,1405.23 255.5,1405.24 259.5,1405.24 263.5,1405.24 267.5,1405.24 271.5,1405.24 275.5,1405.25 279.5,1405.25 283.5,1405.25 287.5,1405.25 291.5,1405.25 295.5,1405.26 299.5,1405.26 303.5,1405.26 307.5,1405.26 311.5,1405.27 315.5,1405.27 319.5,1405.27 323.5,1405.27 327.5,1405.27 331.5,1405.28 335.5,1405.28 339.5,1405.28 343.5,1405.28 347.5,1405.28 351.5,1405.28 355.5,1405.29 359.5,1405.29 363.5,1405.29 367.5,1405.29 371.5,1405.29 375.5,1405.30 379.5,1405.30 383.5,1405.30 387.5,1405.30 391.5,1405.30 395.5,1405.30 399.5,1405.31 403.5,1405.31 407.5,1405.31 411.5,1405.31 415.5,1405.31 419.5,1405.31 423.5,1405.31 427.5,1405.31 431.5,1405.32 435.5,1405.32 439.5,1405.32 443.5,1405.32 447.5,1405.32 451.5,1405.32 455.5,1405.32 459.5,1405.32 463.5,1405.32 467.5,1405.32 471.5,1405.32 475.5,1405.32 479.5,1405.32 483.5,1405.32 487.5,1405.32 491.5,1405.32 495.5,1405.32 499.5,1405.32 503.5,1405.32 507.5,1405.32 511.5,1405.31 515.5,1405.31 519.5,1405.31 523.5,1405.30 527.5,1405.30 531.5,1405.30 535.5,1405.29 539.5,1405.29 543.5,1405.28 547.5,1405.27 551.5,1405.27 555.5,1405.26 559.5,1405.25 563.5,1405.24 567.5,1405.22 571.5,1405.21 575.5,1405.19 579.5,1405.17 583.5,1405.15 587.5,1405.12 591.5,1405.09 595.5,1405.06 599.5,1405.01 603.5,1404.96 605.0,1404.94 606.5,1404.92 608.0,1404.89 609.5,1404.87 611.0,1404.84 612.5,1404.81 614.0,1404.78 615.5,1404.74 617.0,1404.70 618.5,1404.66 620.0,1404.61 621.5,1404.56 623.0,1404.51 624.5,1404.45 626.0,1404.38 627.5,1404.31 629.0,1404.23 630.5,1404.14 632.0,1404.04 633.5,1403.93 635.0,1403.81 636.5,1403.67 637.0,1403.62 637.5,1403.57 638.0,1403.52 638.5,1403.46 639.0,1403.40 639.5,1403.34 640.0,1403.27 640.5,1403.21 641.0,1403.14 641.5,1403.06 642.0,1402.98 642.5,1402.90 643.0,1402.82 643.5,1402.73 644.0,1402.64 644.5,1402.54 645.0,1402.44 645.5,1402.33 646.0,1402.21 646.5,1402.09 647.0,1401.97 647.5,1401.84 648.0,1401.70 648.5,1401.55 649.0,1401.39 649.5,1401.22 650.0,1401.05 650.5,1400.86 651.0,1400.67 651.5,1400.46 652.0,1400.24 652.5,1400.00 653.0,1399.75 653.5,1399.48 654.0,1399.20 654.5,1398.90 655.0,1398.58 655.5,1398.23 656.0,1397.87 656.5,1397.48 657.0,1397.06 657.5,1396.61 658.0,1396.13 658.5,1395.62 659.0,1395.05 659.5,1394.41 660.0,1393.64 660.5,1392.63 661.0,1391.21 661.5,1389.08 662.0,1385.88 662.5,1381.14 663.0,1374.41 663.5,1365.32 664.0,1353.73 664.5,1339.79 665.0,1324.01 665.5,1307.14 666.0,1290.16 666.5,1274.04 667.0,1259.62 667.5,1247.53 668.0,1238.07 668.5,1231.27 669.0,1226.87 669.5,1224.45 670.0,1223.45 670.5,1223.26 671.0,1223.45 671.5,1224.45 672.0,1226.87 672.5,1231.27 673.0,1238.07 673.5,1247.53 674.0,1259.62 674.5,1274.04 675.0,1290.16 675.5,1307.15 676.0,1324.01 676.5,1339.80 677.0,1353.73 677.5,1365.32 678.0,1374.41 678.5,1381.15 679.0,1385.88 679.5,1389.09 680.0,1391.21 680.5,1392.63 681.0,1393.64 681.5,1394.42 682.0,1395.06 682.5,1395.62 683.0,1396.14 683.5,1396.62 684.0,1397.06 684.5,1397.48 685.0,1397.87 685.5,1398.24 686.0,1398.58 686.5,1398.90 687.0,1399.20 687.5,1399.49 688.0,1399.75 688.5,1400.00 689.0,1400.24 689.5,1400.46 690.0,1400.67 690.5,1400.87 691.0,1401.05 691.5,1401.23 692.0,1401.40 692.5,1401.55 693.0,1401.70 693.5,1401.84 694.0,1401.97 694.5,1402.10 695.0,1402.22 695.5,1402.33 696.0,1402.44 696.5,1402.55 697.0,1402.64 697.5,1402.74 698.0,1402.83 698.5,1402.91 699.0,1402.99 699.5,1403.07 700.0,1403.14 700.5,1403.21 701.0,1403.28 701.5,1403.34 702.0,1403.41 702.5,1403.47 703.0,1403.52 703.5,1403.58 704.0,1403.63 704.5,1403.68 705.0,1403.73 705.5,1403.77 707.0,1403.90 708.5,1404.01 710.0,1404.12 711.5,1404.21 713.0,1404.29 714.5,1404.36 716.0,1404.43 717.5,1404.49 719.0,1404.55 720.5,1404.60 722.0,1404.65 722.5,1404.66 723.0,1404.67 723.5,1404.69 724.0,1404.70 724.5,1404.71 725.0,1404.73 725.5,1404.74 726.0,1404.75 726.5,1404.76 727.0,1404.77 727.5,1404.78 728.0,1404.79 728.5,1404.80 729.0,1404.81 729.5,1404.82 730.0,1404.83 730.5,1404.84 731.0,1404.85 731.5,1404.86 732.0,1404.87 732.5,1404.87 733.0,1404.88 733.5,1404.89 734.0,1404.90 734.5,1404.90 735.0,1404.91 735.5,1404.91 736.0,1404.92 736.5,1404.93 737.0,1404.93 737.5,1404.94 738.0,1404.94 738.5,1404.95 739.0,1404.95 739.5,1404.96 740.0,1404.96 740.5,1404.96 741.0,1404.97 741.5,1404.97 742.0,1404.97 742.5,1404.97 743.0,1404.97 743.5,1404.97 744.0,1404.97 744.5,1404.97 745.0,1404.97 745.5,1404.96 746.0,1404.95 746.5,1404.94 747.0,1404.92 747.5,1404.89 748.0,1404.86 748.5,1404.82 749.0,1404.76 749.5,1404.69 750.0,1404.60 750.5,1404.50 751.0,1404.38 751.5,1404.24 752.0,1404.09 752.5,1403.93 753.0,1403.77 753.5,1403.60 754.0,1403.45 754.5,1403.31 755.0,1403.20 755.5,1403.13 756.0,1403.11 756.5,1403.14 757.0,1403.21 757.5,1403.32 758.0,1403.46 758.5,1403.62 759.0,1403.79 759.5,1403.96 760.0,1404.12 760.5,1404.28 761.0,1404.42 761.5,1404.54 762.0,1404.65 762.5,1404.74 763.0,1404.82 763.5,1404.88 764.0,1404.92 764.5,1404.96 765.0,1404.99 765.5,1405.01 766.0,1405.03 766.5,1405.05 767.0,1405.06 767.5,1405.06 768.0,1405.07 768.5,1405.08 769.0,1405.08 769.5,1405.08 770.0,1405.09 770.5,1405.09 771.0,1405.09 771.5,1405.09 772.0,1405.09 772.5,1405.10 773.0,1405.10 773.5,1405.10 774.0,1405.10 774.5,1405.10 775.0,1405.10 775.5,1405.10 776.0,1405.10 776.5,1405.09 777.0,1405.09 777.5,1405.09 778.0,1405.09 778.5,1405.09 779.0,1405.09 779.5,1405.09 780.0,1405.08 780.5,1405.08 781.0,1405.08 781.5,1405.08 782.0,1405.07 782.5,1405.07 783.0,1405.07 783.5,1405.07 784.0,1405.06 784.5,1405.06 785.0,1405.05 785.5,1405.05 786.0,1405.05 786.5,1405.04 787.0,1405.04 787.5,1405.03 788.0,1405.03 788.5,1405.02 789.0,1405.02 789.5,1405.01 790.0,1405.00 790.5,1405.00 791.0,1404.99 792.5,1404.97 794.0,1404.95 795.5,1404.92 797.0,1404.89 798.5,1404.85 800.0,1404.82 801.5,1404.77 803.0,1404.72 804.5,1404.67 806.0,1404.61 806.5,1404.58 807.0,1404.56 807.5,1404.54 808.0,1404.51 808.5,1404.48 809.0,1404.45 809.5,1404.42 810.0,1404.39 810.5,1404.36 811.0,1404.33 811.5,1404.29 812.0,1404.26 812.5,1404.22 813.0,1404.18 813.5,1404.13 814.0,1404.09 814.5,1404.04 815.0,1403.99 815.5,1403.94 816.0,1403.89 816.5,1403.83 817.0,1403.77 817.5,1403.70 818.0,1403.64 818.5,1403.57 819.0,1403.49 819.5,1403.41 820.0,1403.33 820.5,1403.24 821.0,1403.14 821.5,1403.05 822.0,1402.94 822.5,1402.83 823.0,1402.71 823.5,1402.58 824.0,1402.45 824.5,1402.31 825.0,1402.16 825.5,1402.00 826.0,1401.83 826.5,1401.65 827.0,1401.45 827.5,1401.24 828.0,1401.00 828.5,1400.71 829.0,1400.33 829.5,1399.82 830.0,1399.08 830.5,1398.01 831.0,1396.47 831.5,1394.32 832.0,1391.43 832.5,1387.72 833.0,1383.17 833.5,1377.88 834.0,1372.01 834.5,1365.80 835.0,1359.56 835.5,1353.57 836.0,1348.11 836.5,1343.38 837.0,1339.50 837.5,1336.52 838.0,1334.40 838.5,1333.04 839.0,1332.29 839.5,1331.98 840.0,1331.92 840.5,1331.98 841.0,1332.29 841.5,1333.04 842.0,1334.41 842.5,1336.53 843.0,1339.51 843.5,1343.39 844.0,1348.12 844.5,1353.58 845.0,1359.57 845.5,1365.82 846.0,1372.03 846.5,1377.90 847.0,1383.19 847.5,1387.74 848.0,1391.45 848.5,1394.35 849.0,1396.50 849.5,1398.04 850.0,1399.11 850.5,1399.85 851.0,1400.37 851.5,1400.74 852.0,1401.03 852.5,1401.28 853.0,1401.49 853.5,1401.69 854.0,1401.87 854.5,1402.05 855.0,1402.21 855.5,1402.36 856.0,1402.50 856.5,1402.64 857.0,1402.76 857.5,1402.88 858.0,1403.00 858.5,1403.10 859.0,1403.20 859.5,1403.30 860.0,1403.39 860.5,1403.48 861.0,1403.56 861.5,1403.63 862.0,1403.71 862.5,1403.78 863.0,1403.84 863.5,1403.90 864.0,1403.96 864.5,1404.02 865.0,1404.07 865.5,1404.12 866.0,1404.17 866.5,1404.22 867.0,1404.26 867.5,1404.31 868.0,1404.35 868.5,1404.39 869.0,1404.42 869.5,1404.46 870.0,1404.49 870.5,1404.52 871.0,1404.56 871.5,1404.58 872.0,1404.61 872.5,1404.64 873.0,1404.67 873.5,1404.69 874.0,1404.72 874.5,1404.74 875.0,1404.76 876.5,1404.83 878.0,1404.88 879.5,1404.93 881.0,1404.98 882.5,1405.02 884.0,1405.06 885.5,1405.09 887.0,1405.13 888.5,1405.15 890.0,1405.18 891.5,1405.21 893.0,1405.23 894.5,1405.25 896.0,1405.27 897.5,1405.29 899.0,1405.30 900.5,1405.32 902.0,1405.34 903.5,1405.35 905.0,1405.36 906.5,1405.37 908.0,1405.39 909.5,1405.40 911.0,1405.41 915.0,1405.43 919.0,1405.46 923.0,1405.47 927.0,1405.49 931.0,1405.51 935.0,1405.52 939.0,1405.53 943.0,1405.55 947.0,1405.56 951.0,1405.57 955.0,1405.58 959.0,1405.58 963.0,1405.59 967.0,1405.60 971.0,1405.61 975.0,1405.61 979.0,1405.62 983.0,1405.63 987.0,1405.63 991.0,1405.64 995.0,1405.64 999.0,1405.65 1003.0,1405.65 1007.0,1405.66 1011.0,1405.66 1015.0,1405.67 1019.0,1405.67 1023.0,1405.67 1027.0,1405.68 1031.0,1405.68 1035.0,1405.69 1039.0,1405.69 1043.0,1405.69 1047.0,1405.70 1051.0,1405.70 1055.0,1405.71 1059.0,1405.71 1063.0,1405.71 1067.0,1405.72 1071.0,1405.72 1075.0,1405.72 1079.0,1405.73 1083.0,1405.73 1087.0,1405.73 1091.0,1405.74 1095.0,1405.74 1099.0,1405.74 1103.0,1405.74 1107.0,1405.75 1111.0,1405.75 1115.0,1405.75 1119.0,1405.76 1123.0,1405.76 1127.0,1405.76 1131.0,1405.76 1135.0,1405.77 1139.0,1405.77 1143.0,1405.77 1147.0,1405.78 1151.0,1405.78 1155.0,1405.78 1159.0,1405.78 1163.0,1405.79 1167.0,1405.79 1171.0,1405.79 1175.0,1405.79 1179.0,1405.80 1183.0,1405.80 1187.0,1405.80 1191.0,1405.80 1195.0,1405.80 1199.0,1405.81 1203.0,1405.81 1207.0,1405.81 1211.0,1405.81 1215.0,1405.82 1219.0,1405.82 1223.0,1405.82 1227.0,1405.82 1231.0,1405.82 1235.0,1405.82 1239.0,1405.83 1243.0,1405.83 1247.0,1405.83 1251.0,1405.83 1255.0,1405.83 1259.0,1405.83 1263.0,1405.83 1267.0,1405.83 1271.0,1405.83 1275.0,1405.83 1279.0,1405.83 1283.0,1405.83 1287.0,1405.83 1291.0,1405.83 1295.0,1405.83 1299.0,1405.83 1303.0,1405.82 1307.0,1405.82 1311.0,1405.82 1315.0,1405.81 1319.0,1405.80 1323.0,1405.80 1324.5,1405.79 1326.0,1405.79 1327.5,1405.78 1329.0,1405.78 1330.5,1405.77 1332.0,1405.77 1333.5,1405.76 1335.0,1405.75 1336.5,1405.75 1338.0,1405.74 1339.5,1405.73 1341.0,1405.72 1342.5,1405.71 1344.0,1405.70 1345.5,1405.69 1347.0,1405.67 1348.5,1405.66 1350.0,1405.64 1351.5,1405.62 1353.0,1405.60 1354.5,1405.58 1356.0,1405.55 1357.5,1405.52 1359.0,1405.49 1359.5,1405.48 1360.0,1405.46 1360.5,1405.45 1361.0,1405.44 1361.5,1405.42 1362.0,1405.41 1362.5,1405.39 1363.0,1405.38 1363.5,1405.36 1364.0,1405.34 1364.5,1405.32 1365.0,1405.30 1365.5,1405.28 1366.0,1405.26 1366.5,1405.24 1367.0,1405.22 1367.5,1405.19 1368.0,1405.16 1368.5,1405.14 1369.0,1405.11 1369.5,1405.08 1370.0,1405.04 1370.5,1405.01 1371.0,1404.97 1371.5,1404.93 1372.0,1404.89 1372.5,1404.84 1373.0,1404.79 1373.5,1404.74 1374.0,1404.68 1374.5,1404.61 1375.0,1404.53 1375.5,1404.45 1376.0,1404.35 1376.5,1404.24 1377.0,1404.11 1377.5,1403.95 1378.0,1403.77 1378.5,1403.55 1379.0,1403.30 1379.5,1402.99 1380.0,1402.63 1380.5,1402.21 1381.0,1401.71 1381.5,1401.12 1382.0,1400.45 1382.5,1399.67 1383.0,1398.77 1383.5,1397.77 1384.0,1396.63 1384.5,1395.38 1385.0,1394.00 1385.5,1392.51 1386.0,1390.92 1386.5,1389.24 1387.0,1387.49 1387.5,1385.70 1388.0,1383.89 1388.5,1382.11 1389.0,1380.38 1389.5,1378.75 1390.0,1377.26 1390.5,1375.94 1391.0,1374.83 1391.5,1373.96 1392.0,1373.36 1392.5,1373.04 1393.0,1373.01 1393.5,1373.27 1394.0,1373.82 1394.5,1374.64 1395.0,1375.70 1395.5,1376.98 1396.0,1378.45 1396.5,1380.05 1397.0,1381.76 1397.5,1383.54 1398.0,1385.34 1398.5,1387.14 1399.0,1388.90 1399.5,1390.60 1400.0,1392.21 1400.5,1393.73 1401.0,1395.12 1401.5,1396.40 1402.0,1397.56 1402.5,1398.59 1403.0,1399.51 1403.5,1400.31 1404.0,1401.01 1404.5,1401.61 1405.0,1402.13 1405.5,1402.57 1406.0,1402.94 1406.5,1403.26 1407.0,1403.52 1407.5,1403.75 1408.0,1403.94 1408.5,1404.10 1409.0,1404.23 1409.5,1404.35 1410.0,1404.45 1410.5,1404.54 1411.0,1404.62 1411.5,1404.69 1412.0,1404.75 1412.5,1404.81 1413.0,1404.86 1413.5,1404.90 1414.0,1404.95 1414.5,1404.99 1415.0,1405.03 1415.5,1405.06 1416.0,1405.10 1416.5,1405.13 1417.0,1405.16 1417.5,1405.19 1418.0,1405.22 1418.5,1405.24 1419.0,1405.27 1419.5,1405.29 1420.0,1405.31 1420.5,1405.33 1421.0,1405.35 1421.5,1405.37 1422.0,1405.39 1422.5,1405.41 1423.0,1405.43 1423.5,1405.44 1424.0,1405.46 1424.5,1405.47 1425.0,1405.49 1425.5,1405.50 1426.0,1405.52 1426.5,1405.53 1427.0,1405.54 1427.5,1405.55 1428.0,1405.56 1429.5,1405.59 1431.0,1405.62 1432.5,1405.65 1434.0,1405.67 1435.5,1405.69 1437.0,1405.71 1438.5,1405.73 1440.0,1405.74 1441.5,1405.76 1443.0,1405.77 1444.5,1405.78 1446.0,1405.80 1447.5,1405.81 1449.0,1405.82 1450.5,1405.82 1452.0,1405.83 1453.5,1405.84 1455.0,1405.85 1456.5,1405.86 1458.0,1405.86 1459.5,1405.87 1461.0,1405.87 1462.5,1405.88 1464.0,1405.89 1468.0,1405.90 1472.0,1405.91 1476.0,1405.92 1480.0,1405.93 1484.0,1405.94 1488.0,1405.94 1492.0,1405.95 1496.0,1405.96 1500.0,1405.96 1504.0,1405.97 1508.0,1405.97 1512.0,1405.98 1516.0,1405.98 1520.0,1405.99 1524.0,1405.99 1528.0,1405.99 1532.0,1406.00 1536.0,1406.00 1540.0,1406.00 1544.0,1406.01 1548.0,1406.01 1552.0,1406.01 1556.0,1406.02 1560.0,1406.02 1564.0,1406.02 1568.0,1406.02 1572.0,1406.03 1576.0,1406.03 1580.0,1406.03 1584.0,1406.03 1588.0,1406.03 1592.0,1406.04 1596.0,1406.04 1600.0,1406.04 1604.0,1406.04 1608.0,1406.04 1612.0,1406.04 1616.0,1406.04 1620.0,1406.04 1624.0,1406.04 1628.0,1406.04 1632.0,1406.04 1636.0,1406.04 1640.0,1406.04 1644.0,1406.04 1648.0,1406.03 1652.0,1406.03 1656.0,1406.03 1660.0,1406.02 1664.0,1406.02 1668.0,1406.01 1672.0,1406.00 1676.0,1405.99 1680.0,1405.98 1681.5,1405.97 1683.0,1405.97 1684.5,1405.96 1686.0,1405.95 1687.5,1405.95 1689.0,1405.94 1690.5,1405.93 1692.0,1405.92 1693.5,1405.91 1695.0,1405.90 1696.5,1405.89 1698.0,1405.87 1699.5,1405.86 1701.0,1405.84 1702.5,1405.83 1704.0,1405.81 1705.5,1405.79 1707.0,1405.76 1708.5,1405.74 1710.0,1405.71 1711.5,1405.68 1713.0,1405.64 1714.5,1405.61 1715.0,1405.59 1715.5,1405.58 1716.0,1405.56 1716.5,1405.55 1717.0,1405.53 1717.5,1405.51 1718.0,1405.49 1718.5,1405.47 1719.0,1405.46 1719.5,1405.43 1720.0,1405.41 1720.5,1405.39 1721.0,1405.37 1721.5,1405.34 1722.0,1405.32 1722.5,1405.29 1723.0,1405.26 1723.5,1405.23 1724.0,1405.20 1724.5,1405.16 1725.0,1405.12 1725.5,1405.08 1726.0,1405.04 1726.5,1404.99 1727.0,1404.93 1727.5,1404.87 1728.0,1404.80 1728.5,1404.73 1729.0,1404.64 1729.5,1404.55 1730.0,1404.44 1730.5,1404.31 1731.0,1404.17 1731.5,1404.00 1732.0,1403.81 1732.5,1403.59 1733.0,1403.35 1733.5,1403.06 1734.0,1402.74 1734.5,1402.37 1735.0,1401.96 1735.5,1401.49 1736.0,1400.97 1736.5,1400.39 1737.0,1399.74 1737.5,1399.03 1738.0,1398.25 1738.5,1397.41 1739.0,1396.50 1739.5,1395.53 1740.0,1394.49 1740.5,1393.40 1741.0,1392.27 1741.5,1391.09 1742.0,1389.88 1742.5,1388.66 1743.0,1387.43 1743.5,1386.22 1744.0,1385.03 1744.5,1383.89 1745.0,1382.81 1745.5,1381.81 1746.0,1380.90 1746.5,1380.10 1747.0,1379.42 1747.5,1378.89 1748.0,1378.49 1748.5,1378.26 1749.0,1378.18 1749.5,1378.26 1750.0,1378.49 1750.5,1378.89 1751.0,1379.43 1751.5,1380.10 1752.0,1380.90 1752.5,1381.81 1753.0,1382.81 1753.5,1383.89 1754.0,1385.04 1754.5,1386.22 1755.0,1387.44 1755.5,1388.66 1756.0,1389.89 1756.5,1391.09 1757.0,1392.27 1757.5,1393.41 1758.0,1394.50 1758.5,1395.53 1759.0,1396.51 1759.5,1397.42 1760.0,1398.26 1760.5,1399.04 1761.0,1399.75 1761.5,1400.39 1762.0,1400.98 1762.5,1401.50 1763.0,1401.97 1763.5,1402.38 1764.0,1402.75 1764.5,1403.07 1765.0,1403.36 1765.5,1403.61 1766.0,1403.82 1766.5,1404.01 1767.0,1404.18 1767.5,1404.32 1768.0,1404.45 1768.5,1404.56 1769.0,1404.66 1769.5,1404.74 1770.0,1404.82 1770.5,1404.89 1771.0,1404.95 1771.5,1405.00 1772.0,1405.05 1772.5,1405.10 1773.0,1405.14 1773.5,1405.18 1774.0,1405.21 1774.5,1405.25 1775.0,1405.28 1775.5,1405.31 1776.0,1405.33 1776.5,1405.36 1777.0,1405.39 1777.5,1405.41 1778.0,1405.43 1778.5,1405.45 1779.0,1405.48 1779.5,1405.49 1780.0,1405.51 1780.5,1405.53 1781.0,1405.55 1781.5,1405.57 1782.0,1405.58 1782.5,1405.60 1783.0,1405.61 1783.5,1405.63 1784.0,1405.64 1785.5,1405.68 1787.0,1405.71 1788.5,1405.74 1790.0,1405.77 1791.5,1405.80 1793.0,1405.82 1794.5,1405.84 1796.0,1405.86 1797.5,1405.87 1799.0,1405.89 1800.5,1405.90 1802.0,1405.91 1803.5,1405.92 1805.0,1405.93 1806.5,1405.94 1808.0,1405.95 1809.5,1405.96 1811.0,1405.96 1812.5,1405.97 1814.0,1405.97 1815.5,1405.97 1817.0,1405.98 1818.5,1405.98 1820.0,1405.98 1821.5,1405.98 1823.0,1405.98 1824.5,1405.97 1826.0,1405.97 1827.5,1405.96 1829.0,1405.96 1829.5,1405.95 1830.0,1405.95 1830.5,1405.95 1831.0,1405.94 1831.5,1405.94 1832.0,1405.94 1832.5,1405.93 1833.0,1405.93 1833.5,1405.92 1834.0,1405.92 1834.5,1405.91 1835.0,1405.91 1835.5,1405.90 1836.0,1405.90 1836.5,1405.89 1837.0,1405.88 1837.5,1405.88 1838.0,1405.87 1838.5,1405.86 1839.0,1405.85 1839.5,1405.84 1840.0,1405.83 1840.5,1405.81 1841.0,1405.80 1841.5,1405.79 1842.0,1405.77 1842.5,1405.75 1843.0,1405.73 1843.5,1405.70 1844.0,1405.67 1844.5,1405.64 1845.0,1405.61 1845.5,1405.56 1846.0,1405.51 1846.5,1405.46 1847.0,1405.39 1847.5,1405.32 1848.0,1405.23 1848.5,1405.14 1849.0,1405.03 1849.5,1404.90 1850.0,1404.76 1850.5,1404.61 1851.0,1404.43 1851.5,1404.24 1852.0,1404.02 1852.5,1403.79 1853.0,1403.54 1853.5,1403.26 1854.0,1402.97 1854.5,1402.66 1855.0,1402.33 1855.5,1401.99 1856.0,1401.63 1856.5,1401.27 1857.0,1400.90 1857.5,1400.53 1858.0,1400.16 1858.5,1399.81 1859.0,1399.46 1859.5,1399.14 1860.0,1398.83 1860.5,1398.56 1861.0,1398.32 1861.5,1398.12 1862.0,1397.95 1862.5,1397.84 1863.0,1397.76 1863.5,1397.74 1864.0,1397.77 1864.5,1397.84 1865.0,1397.96 1865.5,1398.12 1866.0,1398.33 1866.5,1398.57 1867.0,1398.84 1867.5,1399.15 1868.0,1399.48 1868.5,1399.82 1869.0,1400.18 1869.5,1400.55 1870.0,1400.92 1870.5,1401.29 1871.0,1401.65 1871.5,1402.01 1872.0,1402.36 1872.5,1402.69 1873.0,1403.00 1873.5,1403.29 1874.0,1403.57 1874.5,1403.82 1875.0,1404.06 1875.5,1404.28 1876.0,1404.47 1876.5,1404.65 1877.0,1404.81 1877.5,1404.95 1878.0,1405.07 1878.5,1405.19 1879.0,1405.28 1879.5,1405.37 1880.0,1405.45 1880.5,1405.51 1881.0,1405.57 1881.5,1405.62 1882.0,1405.67 1882.5,1405.70 1883.0,1405.74 1883.5,1405.77 1884.0,1405.79 1884.5,1405.82 1885.0,1405.84 1885.5,1405.86 1886.0,1405.87 1886.5,1405.89 1887.0,1405.90 1887.5,1405.92 1888.0,1405.93 1888.5,1405.94 1889.0,1405.95 1889.5,1405.96 1890.0,1405.97 1890.5,1405.98 1891.0,1405.99 1891.5,1406.00 1892.0,1406.00 1892.5,1406.01 1893.0,1406.02 1893.5,1406.03 1894.0,1406.03 1894.5,1406.04 1895.0,1406.04 1895.5,1406.05 1896.0,1406.06 1896.5,1406.06 1897.0,1406.07 1897.5,1406.07 1898.0,1406.08 1898.5,1406.08 1900.0,1406.09 1901.5,1406.11 1903.0,1406.12 1904.5,1406.13 1906.0,1406.14 1907.5,1406.15 1909.0,1406.15 1910.5,1406.16 1912.0,1406.17 1913.5,1406.17 1915.0,1406.18 1916.5,1406.18 1918.0,1406.19 1919.5,1406.19 1921.0,1406.20 1922.5,1406.20 1924.0,1406.21 1925.5,1406.21 1927.0,1406.22 1928.5,1406.22 1930.0,1406.22 1931.5,1406.23 1933.0,1406.23 1934.5,1406.23 1937.0,1406.24" fill="none" stroke="#0000ff" stroke-width="6.0" stroke-linejoin="round" stroke-linecap="butt"/>
<polyline points="171.5,1596.89 175.5,1596.89 179.5,1596.89 183.5,1596.89 187.5,1596.90 191.5,1596.90 195.5,1596.90 199.5,1596.90 203.5,1596.90 207.5,1596.91 211.5,1596.91 215.5,1596.91 219.5,1596.91 223.5,1596.91 227.5,1596.92 231.5,1596.92 235.5,1596.92 239.5,1596.92 243.5,1596.92 247.5,1596.93 251.5,1596.93 255.5,1596.93 259.5,1596.93 263.5,1596.93 267.5,1596.94 271.5,1596.94 275.5,1596.94 279.5,1596.94 283.5,1596.94 287.5,1596.95 291.5,1596.95 295.5,1596.95 299.5,1596.95 303.5,1596.95 307.5,1596.96 311.5,1596.96 315.5,1596.96 319.5,1596.96 323.5,1596.96 327.5,1596.96 331.5,1596.97 335.5,1596.97 339.5,1596.97 343.5,1596.97 347.5,1596.97 351.5,1596.97 355.5,1596.98 359.5,1596.98 363.5,1596.98 367.5,1596.98 371.5,1596.98 375.5,1596.98 379.5,1596.99 383.5,1596.99 387.5,1596.99 391.5,1596.99 395.5,1596.99 399.5,1596.99 403.5,1596.99 407.5,1596.99 411.5,1597.00 415.5,1597.00 419.5,1597.00 423.5,1597.00 427.5,1597.00 431.5,1597.00 435.5,1597.00 439.5,1597.00 443.5,1597.00 447.5,1597.00 451.5,1597.00 455.5,1597.00 459.5,1597.00 463.5,1597.00 467.5,1597.00 471.5,1597.00 475.5,1597.00 479.5,1597.00 483.5,1597.00 487.5,1597.00 491.5,1597.00 495.5,1597.00 499.5,1597.00 503.5,1597.00 507.5,1597.00 511.5,1596.99 515.5,1596.99 519.5,1596.99 523.5,1596.98 527.5,1596.98 531.5,1596.98 535.5,1596.97 539.5,1596.97 543.5,1596.96 547.5,1596.95 551.5,1596.94 555.5,1596.93 559.5,1596.92 563.5,1596.91 567.5,1596.90 571.5,1596.88 575.5,1596.87 579.5,1596.85 583.5,1596.82 587.5,1596.80 591.5,1596.77 595.5,1596.73 599.5,1596.69 603.5,1596.63 605.0,1596.61 606.5,1596.59 608.0,1596.57 609.5,1596.54 611.0,1596.51 612.5,1596.48 614.0,1596.45 615.5,1596.41 617.0,1596.37 618.5,1596.33 620.0,1596.28 621.5,1596.23 623.0,1596.18 624.5,1596.12 626.0,1596.05 627.5,1595.98 629.0,1595.89 630.5,1595.81 632.0,1595.71 633.5,1595.59 635.0,1595.47 636.5,1595.33 637.0,1595.28 637.5,1595.23 638.0,1595.17 638.5,1595.12 639.0,1595.06 639.5,1594.99 640.0,1594.93 640.5,1594.86 641.0,1594.79 641.5,1594.72 642.0,1594.64 642.5,1594.56 643.0,1594.47 643.5,1594.38 644.0,1594.29 644.5,1594.19 645.0,1594.09 645.5,1593.98 646.0,1593.86 646.5,1593.74 647.0,1593.61 647.5,1593.48 648.0,1593.34 648.5,1593.19 649.0,1593.03 649.5,1592.86 650.0,1592.69 650.5,1592.50 651.0,1592.30 651.5,1592.09 652.0,1591.87 652.5,1591.63 653.0,1591.38 653.5,1591.11 654.0,1590.82 654.5,1590.52 655.0,1590.19 655.5,1589.85 656.0,1589.48 656.5,1589.08 657.0,1588.66 657.5,1588.21 658.0,1587.73 658.5,1587.21 659.0,1586.64 659.5,1585.99 660.0,1585.22 660.5,1584.20 661.0,1582.76 661.5,1580.62 662.0,1577.40 662.5,1572.62 663.0,1565.83 663.5,1556.67 664.0,1544.98 664.5,1530.94 665.0,1515.02 665.5,1498.02 666.0,1480.90 666.5,1464.65 667.0,1450.12 667.5,1437.92 668.0,1428.39 668.5,1421.53 669.0,1417.10 669.5,1414.66 670.0,1413.65 670.5,1413.46 671.0,1413.65 671.5,1414.66 672.0,1417.10 672.5,1421.53 673.0,1428.39 673.5,1437.92 674.0,1450.12 674.5,1464.65 675.0,1480.90 675.5,1498.02 676.0,1515.02 676.5,1530.94 677.0,1544.98 677.5,1556.67 678.0,1565.83 678.5,1572.62 679.0,1577.40 679.5,1580.62 680.0,1582.76 680.5,1584.20 681.0,1585.22 681.5,1586.00 682.0,1586.64 682.5,1587.21 683.0,1587.73 683.5,1588.21 684.0,1588.66 684.5,1589.08 685.0,1589.48 685.5,1589.85 686.0,1590.19 686.5,1590.52 687.0,1590.82 687.5,1591.11 688.0,1591.38 688.5,1591.63 689.0,1591.87 689.5,1592.09 690.0,1592.30 690.5,1592.50 691.0,1592.69 691.5,1592.87 692.0,1593.03 692.5,1593.19 693.0,1593.34 693.5,1593.48 694.0,1593.62 694.5,1593.74 695.0,1593.86 695.5,1593.98 696.0,1594.09 696.5,1594.19 697.0,1594.29 697.5,1594.38 698.0,1594.47 698.5,1594.56 699.0,1594.64 699.5,1594.72 700.0,1594.79 700.5,1594.86 701.0,1594.93 701.5,1595.00 702.0,1595.06 702.5,1595.12 703.0,1595.18 703.5,1595.23 704.0,1595.28 704.5,1595.33 705.0,1595.38 705.5,1595.43 707.0,1595.56 708.5,1595.67 710.0,1595.77 711.5,1595.87 713.0,1595.95 714.5,1596.02 716.0,1596.09 717.5,1596.15 719.0,1596.21 720.5,1596.26 722.0,1596.31 722.5,1596.32 723.0,1596.34 723.5,1596.35 724.0,1596.36 724.5,1596.38 725.0,1596.39 725.5,1596.40 726.0,1596.41 726.5,1596.42 727.0,1596.43 727.5,1596.45 728.0,1596.46 728.5,1596.47 729.0,1596.48 729.5,1596.49 730.0,1596.49 730.5,1596.50 731.0,1596.51 731.5,1596.52 732.0,1596.53 732.5,1596.54 733.0,1596.54 733.5,1596.55 734.0,1596.56 734.5,1596.57 735.0,1596.57 735.5,1596.58 736.0,1596.58 736.5,1596.59 737.0,1596.60 737.5,1596.60 738.0,1596.61 738.5,1596.61 739.0,1596.61 739.5,1596.62 740.0,1596.62 740.5,1596.63 741.0,1596.63 741.5,1596.63 742.0,1596.63 742.5,1596.63 743.0,1596.64 743.5,1596.64 744.0,1596.63 744.5,1596.63 745.0,1596.63 745.5,1596.62 746.0,1596.61 746.5,1596.60 747.0,1596.58 747.5,1596.56 748.0,1596.52 748.5,1596.48 749.0,1596.42 749.5,1596.35 750.0,1596.26 750.5,1596.16 751.0,1596.04 751.5,1595.91 752.0,1595.76 752.5,1595.59 753.0,1595.43 753.5,1595.26 754.0,1595.11 754.5,1594.97 755.0,1594.86 755.5,1594.80 756.0,1594.77 756.5,1594.80 757.0,1594.87 757.5,1594.98 758.0,1595.12 758.5,1595.28 759.0,1595.45 759.5,1595.62 760.0,1595.79 760.5,1595.94 761.0,1596.08 761.5,1596.21 762.0,1596.31 762.5,1596.40 763.0,1596.48 763.5,1596.54 764.0,1596.59 764.5,1596.62 765.0,1596.65 765.5,1596.68 766.0,1596.69 766.5,1596.71 767.0,1596.72 767.5,1596.73 768.0,1596.73 768.5,1596.74 769.0,1596.74 769.5,1596.75 770.0,1596.75 770.5,1596.75 771.0,1596.75 771.5,1596.75 772.0,1596.76 772.5,1596.76 773.0,1596.76 773.5,1596.76 774.0,1596.76 774.5,1596.76 775.0,1596.76 775.5,1596.76 776.0,1596.76 776.5,1596.76 777.0,1596.76 777.5,1596.75 778.0,1596.75 778.5,1596.75 779.0,1596.75 779.5,1596.75 780.0,1596.75 780.5,1596.74 781.0,1596.74 781.5,1596.74 782.0,1596.74 782.5,1596.73 783.0,1596.73 783.5,1596.73 784.0,1596.72 784.5,1596.72 785.0,1596.71 785.5,1596.71 786.0,1596.71 786.5,1596.70 787.0,1596.70 787.5,1596.69 788.0,1596.69 788.5,1596.68 789.0,1596.68 789.5,1596.67 790.0,1596.66 790.5,1596.66 791.0,1596.65 792.5,1596.63 794.0,1596.60 795.5,1596.58 797.0,1596.55 798.5,1596.51 800.0,1596.47 801.5,1596.43 803.0,1596.38 804.5,1596.32 806.0,1596.26 806.5,1596.24 807.0,1596.21 807.5,1596.19 808.0,1596.16 808.5,1596.14 809.0,1596.11 809.5,1596.08 810.0,1596.05 810.5,1596.01 811.0,1595.98 811.5,1595.94 812.0,1595.91 812.5,1595.87 813.0,1595.83 813.5,1595.78 814.0,1595.74 814.5,1595.69 815.0,1595.64 815.5,1595.59 816.0,1595.53 816.5,1595.47 817.0,1595.41 817.5,1595.35 818.0,1595.28 818.5,1595.21 819.0,1595.13 819.5,1595.05 820.0,1594.97 820.5,1594.88 821.0,1594.78 821.5,1594.68 822.0,1594.58 822.5,1594.46 823.0,1594.34 823.5,1594.22 824.0,1594.08 824.5,1593.94 825.0,1593.79 825.5,1593.63 826.0,1593.45 826.5,1593.27 827.0,1593.07 827.5,1592.86 828.0,1592.61 828.5,1592.32 829.0,1591.94 829.5,1591.42 830.0,1590.68 830.5,1589.60 831.0,1588.04 831.5,1585.87 832.0,1582.94 832.5,1579.19 833.0,1574.60 833.5,1569.25 834.0,1563.32 834.5,1557.05 835.0,1550.74 835.5,1544.69 836.0,1539.17 836.5,1534.39 837.0,1530.48 837.5,1527.47 838.0,1525.33 838.5,1523.95 839.0,1523.19 839.5,1522.88 840.0,1522.82 840.5,1522.88 841.0,1523.20 841.5,1523.95 842.0,1525.33 842.5,1527.48 843.0,1530.49 843.5,1534.40 844.0,1539.19 844.5,1544.71 845.0,1550.76 845.5,1557.07 846.0,1563.34 846.5,1569.27 847.0,1574.62 847.5,1579.22 848.0,1582.97 848.5,1585.89 849.0,1588.07 849.5,1589.63 850.0,1590.71 850.5,1591.45 851.0,1591.97 851.5,1592.35 852.0,1592.65 852.5,1592.90 853.0,1593.11 853.5,1593.31 854.0,1593.50 854.5,1593.67 855.0,1593.83 855.5,1593.99 856.0,1594.13 856.5,1594.27 857.0,1594.39 857.5,1594.52 858.0,1594.63 858.5,1594.74 859.0,1594.84 859.5,1594.94 860.0,1595.03 860.5,1595.11 861.0,1595.20 861.5,1595.27 862.0,1595.35 862.5,1595.42 863.0,1595.48 863.5,1595.55 864.0,1595.61 864.5,1595.66 865.0,1595.72 865.5,1595.77 866.0,1595.82 866.5,1595.87 867.0,1595.91 867.5,1595.95 868.0,1595.99 868.5,1596.03 869.0,1596.07 869.5,1596.11 870.0,1596.14 870.5,1596.17 871.0,1596.20 871.5,1596.23 872.0,1596.26 872.5,1596.29 873.0,1596.32 873.5,1596.34 874.0,1596.37 874.5,1596.39 875.0,1596.41 876.5,1596.48 878.0,1596.54 879.5,1596.59 881.0,1596.63 882.5,1596.68 884.0,1596.71 885.5,1596.75 887.0,1596.78 888.5,1596.81 890.0,1596.84 891.5,1596.86 893.0,1596.88 894.5,1596.90 896.0,1596.92 897.5,1596.94 899.0,1596.96 900.5,1596.98 902.0,1596.99 903.5,1597.00 905.0,1597.02 906.5,1597.03 908.0,1597.04 909.5,1597.05 911.0,1597.06 915.0,1597.09 919.0,1597.11 923.0,1597.13 927.0,1597.15 931.0,1597.16 935.0,1597.18 939.0,1597.19 943.0,1597.20 947.0,1597.21 951.0,1597.22 955.0,1597.23 959.0,1597.24 963.0,1597.25 967.0,1597.25 971.0,1597.26 975.0,1597.27 979.0,1597.27 983.0,1597.28 987.0,1597.28 991.0,1597.29 995.0,1597.29 999.0,1597.30 1003.0,1597.30 1007.0,1597.31 1011.0,1597.31 1015.0,1597.32 1019.0,1597.32 1023.0,1597.33 1027.0,1597.33 1031.0,1597.33 1035.0,1597.34 1039.0,1597.34 1043.0,1597.34 1047.0,1597.35 1051.0,1597.35 1055.0,1597.36 1059.0,1597.36 1063.0,1597.36 1067.0,1597.36 1071.0,1597.37 1075.0,1597.37 1079.0,1597.37 1083.0,1597.38 1087.0,1597.38 1091.0,1597.38 1095.0,1597.39 1099.0,1597.39 1103.0,1597.39 1107.0,1597.39 1111.0,1597.40 1115.0,1597.40 1119.0,1597.40 1123.0,1597.40 1127.0,1597.41 1131.0,1597.41 1135.0,1597.41 1139.0,1597.41 1143.0,1597.42 1147.0,1597.42 1151.0,1597.42 1155.0,1597.42 1159.0,1597.43 1163.0,1597.43 1167.0,1597.43 1171.0,1597.43 1175.0,1597.44 1179.0,1597.44 1183.0,1597.44 1187.0,1597.44 1191.0,1597.44 1195.0,1597.45 1199.0,1597.45 1203.0,1597.45 1207.0,1597.45 1211.0,1597.45 1215.0,1597.46 1219.0,1597.46 1223.0,1597.46 1227.0,1597.46 1231.0,1597.46 1235.0,1597.46 1239.0,1597.46 1243.0,1597.47 1247.0,1597.47 1251.0,1597.47 1255.0,1597.47 1259.0,1597.47 1263.0,1597.47 1267.0,1597.47 1271.0,1597.47 1275.0,1597.47 1279.0,1597.47 1283.0,1597.47 1287.0,1597.47 1291.0,1597.47 1295.0,1597.46 1299.0,1597.46 1303.0,1597.46 1307.0,1597.45 1311.0,1597.45 1315.0,1597.44 1319.0,1597.44 1323.0,1597.43 1324.5,1597.42 1326.0,1597.42 1327.5,1597.41 1329.0,1597.41 1330.5,1597.40 1332.0,1597.40 1333.5,1597.39 1335.0,1597.38 1336.5,1597.38 1338.0,1597.37 1339.5,1597.36 1341.0,1597.35 1342.5,1597.34 1344.0,1597.33 1345.5,1597.31 1347.0,1597.30 1348.5,1597.28 1350.0,1597.27 1351.5,1597.25 1353.0,1597.23 1354.5,1597.20 1356.0,1597.18 1357.5,1597.15 1359.0,1597.11 1359.5,1597.10 1360.0,1597.09 1360.5,1597.07 1361.0,1597.06 1361.5,1597.04 1362.0,1597.03 1362.5,1597.01 1363.0,1597.00 1363.5,1596.98 1364.0,1596.96 1364.5,1596.94 1365.0,1596.92 1365.5,1596.90 1366.0,1596.88 1366.5,1596.85 1367.0,1596.83 1367.5,1596.80 1368.0,1596.78 1368.5,1596.75 1369.0,1596.72 1369.5,1596.69 1370.0,1596.65 1370.5,1596.62 1371.0,1596.58 1371.5,1596.54 1372.0,1596.49 1372.5,1596.45 1373.0,1596.39 1373.5,1596.34 1374.0,1596.28 1374.5,1596.21 1375.0,1596.13 1375.5,1596.04 1376.0,1595.94 1376.5,1595.83 1377.0,1595.69 1377.5,1595.53 1378.0,1595.35 1378.5,1595.12 1379.0,1594.86 1379.5,1594.55 1380.0,1594.18 1380.5,1593.75 1381.0,1593.23 1381.5,1592.64 1382.0,1591.94 1382.5,1591.14 1383.0,1590.23 1383.5,1589.19 1384.0,1588.03 1384.5,1586.75 1385.0,1585.34 1385.5,1583.81 1386.0,1582.17 1386.5,1580.45 1387.0,1578.65 1387.5,1576.82 1388.0,1574.97 1388.5,1573.14 1389.0,1571.37 1389.5,1569.70 1390.0,1568.17 1390.5,1566.82 1391.0,1565.68 1391.5,1564.79 1392.0,1564.17 1392.5,1563.84 1393.0,1563.81 1393.5,1564.08 1394.0,1564.64 1394.5,1565.48 1395.0,1566.57 1395.5,1567.89 1396.0,1569.38 1396.5,1571.03 1397.0,1572.78 1397.5,1574.60 1398.0,1576.45 1398.5,1578.30 1399.0,1580.10 1399.5,1581.84 1400.0,1583.50 1400.5,1585.05 1401.0,1586.48 1401.5,1587.79 1402.0,1588.98 1402.5,1590.04 1403.0,1590.98 1403.5,1591.80 1404.0,1592.52 1404.5,1593.13 1405.0,1593.66 1405.5,1594.11 1406.0,1594.50 1406.5,1594.82 1407.0,1595.09 1407.5,1595.32 1408.0,1595.52 1408.5,1595.68 1409.0,1595.82 1409.5,1595.94 1410.0,1596.04 1410.5,1596.13 1411.0,1596.21 1411.5,1596.28 1412.0,1596.35 1412.5,1596.41 1413.0,1596.46 1413.5,1596.51 1414.0,1596.55 1414.5,1596.59 1415.0,1596.63 1415.5,1596.67 1416.0,1596.71 1416.5,1596.74 1417.0,1596.77 1417.5,1596.80 1418.0,1596.83 1418.5,1596.85 1419.0,1596.88 1419.5,1596.90 1420.0,1596.93 1420.5,1596.95 1421.0,1596.97 1421.5,1596.99 1422.0,1597.01 1422.5,1597.03 1423.0,1597.04 1423.5,1597.06 1424.0,1597.08 1424.5,1597.09 1425.0,1597.11 1425.5,1597.12 1426.0,1597.13 1426.5,1597.15 1427.0,1597.16 1427.5,1597.17 1428.0,1597.18 1429.5,1597.21 1431.0,1597.24 1432.5,1597.27 1434.0,1597.29 1435.5,1597.31 1437.0,1597.33 1438.5,1597.35 1440.0,1597.37 1441.5,1597.38 1443.0,1597.39 1444.5,1597.41 1446.0,1597.42 1447.5,1597.43 1449.0,1597.44 1450.5,1597.45 1452.0,1597.46 1453.5,1597.47 1455.0,1597.47 1456.5,1597.48 1458.0,1597.49 1459.5,1597.49 1461.0,1597.50 1462.5,1597.50 1464.0,1597.51 1468.0,1597.52 1472.0,1597.53 1476.0,1597.54 1480.0,1597.55 1484.0,1597.56 1488.0,1597.57 1492.0,1597.57 1496.0,1597.58 1500.0,1597.59 1504.0,1597.59 1508.0,1597.60 1512.0,1597.60 1516.0,1597.61 1520.0,1597.61 1524.0,1597.61 1528.0,1597.62 1532.0,1597.62 1536.0,1597.62 1540.0,1597.63 1544.0,1597.63 1548.0,1597.63 1552.0,1597.64 1556.0,1597.64 1560.0,1597.64 1564.0,1597.64 1568.0,1597.64 1572.0,1597.65 1576.0,1597.65 1580.0,1597.65 1584.0,1597.65 1588.0,1597.65 1592.0,1597.65 1596.0,1597.66 1600.0,1597.66 1604.0,1597.66 1608.0,1597.66 1612.0,1597.66 1616.0,1597.66 1620.0,1597.66 1624.0,1597.66 1628.0,1597.66 1632.0,1597.66 1636.0,1597.66 1640.0,1597.66 1644.0,1597.65 1648.0,1597.65 1652.0,1597.65 1656.0,1597.64 1660.0,1597.64 1664.0,1597.63 1668.0,1597.62 1672.0,1597.62 1676.0,1597.60 1680.0,1597.59 1681.5,1597.59 1683.0,1597.58 1684.5,1597.57 1686.0,1597.57 1687.5,1597.56 1689.0,1597.55 1690.5,1597.54 1692.0,1597.53 1693.5,1597.52 1695.0,1597.51 1696.5,1597.50 1698.0,1597.48 1699.5,1597.47 1701.0,1597.45 1702.5,1597.44 1704.0,1597.42 1705.5,1597.40 1707.0,1597.37 1708.5,1597.35 1710.0,1597.32 1711.5,1597.29 1713.0,1597.25 1714.5,1597.21 1715.0,1597.20 1715.5,1597.18 1716.0,1597.17 1716.5,1597.15 1717.0,1597.13 1717.5,1597.11 1718.0,1597.10 1718.5,1597.08 1719.0,1597.06 1719.5,1597.04 1720.0,1597.01 1720.5,1596.99 1721.0,1596.97 1721.5,1596.94 1722.0,1596.92 1722.5,1596.89 1723.0,1596.86 1723.5,1596.83 1724.0,1596.79 1724.5,1596.76 1725.0,1596.72 1725.5,1596.68 1726.0,1596.63 1726.5,1596.58 1727.0,1596.52 1727.5,1596.46 1728.0,1596.39 1728.5,1596.32 1729.0,1596.23 1729.5,1596.13 1730.0,1596.02 1730.5,1595.89 1731.0,1595.74 1731.5,1595.58 1732.0,1595.38 1732.5,1595.16 1733.0,1594.91 1733.5,1594.62 1734.0,1594.29 1734.5,1593.92 1735.0,1593.50 1735.5,1593.02 1736.0,1592.49 1736.5,1591.89 1737.0,1591.24 1737.5,1590.51 1738.0,1589.72 1738.5,1588.87 1739.0,1587.94 1739.5,1586.95 1740.0,1585.89 1740.5,1584.78 1741.0,1583.63 1741.5,1582.43 1742.0,1581.20 1742.5,1579.96 1743.0,1578.71 1743.5,1577.47 1744.0,1576.26 1744.5,1575.10 1745.0,1574.00 1745.5,1572.98 1746.0,1572.05 1746.5,1571.24 1747.0,1570.55 1747.5,1570.00 1748.0,1569.60 1748.5,1569.36 1749.0,1569.28 1749.5,1569.36 1750.0,1569.60 1750.5,1570.00 1751.0,1570.55 1751.5,1571.24 1752.0,1572.05 1752.5,1572.98 1753.0,1574.00 1753.5,1575.10 1754.0,1576.27 1754.5,1577.47 1755.0,1578.71 1755.5,1579.96 1756.0,1581.21 1756.5,1582.43 1757.0,1583.63 1757.5,1584.79 1758.0,1585.90 1758.5,1586.95 1759.0,1587.95 1759.5,1588.87 1760.0,1589.73 1760.5,1590.52 1761.0,1591.25 1761.5,1591.90 1762.0,1592.50 1762.5,1593.03 1763.0,1593.51 1763.5,1593.93 1764.0,1594.30 1764.5,1594.63 1765.0,1594.92 1765.5,1595.18 1766.0,1595.40 1766.5,1595.59 1767.0,1595.76 1767.5,1595.91 1768.0,1596.03 1768.5,1596.15 1769.0,1596.25 1769.5,1596.33 1770.0,1596.41 1770.5,1596.48 1771.0,1596.54 1771.5,1596.60 1772.0,1596.65 1772.5,1596.69 1773.0,1596.74 1773.5,1596.77 1774.0,1596.81 1774.5,1596.85 1775.0,1596.88 1775.5,1596.91 1776.0,1596.94 1776.5,1596.96 1777.0,1596.99 1777.5,1597.01 1778.0,1597.04 1778.5,1597.06 1779.0,1597.08 1779.5,1597.10 1780.0,1597.12 1780.5,1597.14 1781.0,1597.16 1781.5,1597.17 1782.0,1597.19 1782.5,1597.20 1783.0,1597.22 1783.5,1597.23 1784.0,1597.25 1785.5,1597.29 1787.0,1597.32 1788.5,1597.35 1790.0,1597.38 1791.5,1597.41 1793.0,1597.43 1794.5,1597.45 1796.0,1597.47 1797.5,1597.49 1799.0,1597.50 1800.5,1597.52 1802.0,1597.53 1803.5,1597.54 1805.0,1597.55 1806.5,1597.56 1808.0,1597.57 1809.5,1597.58 1811.0,1597.59 1812.5,1597.59 1814.0,1597.60 1815.5,1597.60 1817.0,1597.61 1818.5,1597.61 1820.0,1597.61 1821.5,1597.61 1823.0,1597.61 1824.5,1597.61 1826.0,1597.61 1827.5,1597.61 1829.0,1597.60 1829.5,1597.60 1830.0,1597.60 1830.5,1597.60 1831.0,1597.60 1831.5,1597.59 1832.0,1597.59 1832.5,1597.59 1833.0,1597.59 1833.5,1597.58 1834.0,1597.58 1834.5,1597.58 1835.0,1597.57 1835.5,1597.57 1836.0,1597.56 1836.5,1597.56 1837.0,1597.55 1837.5,1597.55 1838.0,1597.54 1838.5,1597.54 1839.0,1597.53 1839.5,1597.52 1840.0,1597.51 1840.5,1597.51 1841.0,1597.50 1841.5,1597.49 1842.0,1597.47 1842.5,1597.46 1843.0,1597.44 1843.5,1597.42 1844.0,1597.40 1844.5,1597.38 1845.0,1597.35 1845.5,1597.32 1846.0,1597.29 1846.5,1597.25 1847.0,1597.20 1847.5,1597.14 1848.0,1597.08 1848.5,1597.01 1849.0,1596.93 1849.5,1596.84 1850.0,1596.73 1850.5,1596.62 1851.0,1596.49 1851.5,1596.34 1852.0,1596.19 1852.5,1596.01 1853.0,1595.83 1853.5,1595.62 1854.0,1595.41 1854.5,1595.18 1855.0,1594.93 1855.5,1594.68 1856.0,1594.42 1856.5,1594.15 1857.0,1593.88 1857.5,1593.60 1858.0,1593.33 1858.5,1593.07 1859.0,1592.81 1859.5,1592.57 1860.0,1592.35 1860.5,1592.14 1861.0,1591.97 1861.5,1591.82 1862.0,1591.70 1862.5,1591.61 1863.0,1591.56 1863.5,1591.54 1864.0,1591.56 1864.5,1591.61 1865.0,1591.70 1865.5,1591.82 1866.0,1591.97 1866.5,1592.15 1867.0,1592.36 1867.5,1592.58 1868.0,1592.83 1868.5,1593.08 1869.0,1593.35 1869.5,1593.62 1870.0,1593.90 1870.5,1594.17 1871.0,1594.44 1871.5,1594.70 1872.0,1594.96 1872.5,1595.20 1873.0,1595.44 1873.5,1595.65 1874.0,1595.86 1874.5,1596.05 1875.0,1596.22 1875.5,1596.38 1876.0,1596.53 1876.5,1596.66 1877.0,1596.77 1877.5,1596.88 1878.0,1596.97 1878.5,1597.06 1879.0,1597.13 1879.5,1597.19 1880.0,1597.25 1880.5,1597.30 1881.0,1597.34 1881.5,1597.38 1882.0,1597.41 1882.5,1597.44 1883.0,1597.47 1883.5,1597.49 1884.0,1597.51 1884.5,1597.53 1885.0,1597.54 1885.5,1597.56 1886.0,1597.57 1886.5,1597.58 1887.0,1597.59 1887.5,1597.60 1888.0,1597.61 1888.5,1597.62 1889.0,1597.63 1889.5,1597.63 1890.0,1597.64 1890.5,1597.65 1891.0,1597.65 1891.5,1597.66 1892.0,1597.67 1892.5,1597.67 1893.0,1597.68 1893.5,1597.68 1894.0,1597.69 1894.5,1597.69 1895.0,1597.70 1895.5,1597.70 1896.0,1597.71 1896.5,1597.71 1897.0,1597.71 1897.5,1597.72 1898.0,1597.72 1898.5,1597.72 1900.0,1597.73 1901.5,1597.74 1903.0,1597.75 1904.5,1597.76 1906.0,1597.77 1907.5,1597.77 1909.0,1597.78 1910.5,1597.79 1912.0,1597.79 1913.5,1597.80 1915.0,1597.80 1916.5,1597.80 1918.0,1597.81 1919.5,1597.81 1921.0,1597.82 1922.5,1597.82 1924.0,1597.82 1925.5,1597.83 1927.0,1597.83 1928.5,1597.83 1930.0,1597.84 1931.5,1597.84 1933.0,1597.84 1934.5,1597.84 1937.0,1597.85" fill="none" stroke="#ff0000" stroke-width="6.0" stroke-linejoin="round" stroke-linecap="butt"/>
<polyline points="171.5,1768.49 175.5,1768.49 179.5,1768.50 183.5,1768.51 187.5,1768.51 191.5,1768.52 195.5,1768.52 199.5,1768.53 203.5,1768.54 207.5,1768.54 211.5,1768.55 215.5,1768.55 219.5,1768.56 223.5,1768.56 227.5,1768.57 231.5,1768.58 235.5,1768.58 239.5,1768.59 243.5,1768.59 247.5,1768.60 251.5,1768.61 255.5,1768.61 259.5,1768.62 263.5,1768.62 267.5,1768.63 271.5,1768.64 275.5,1768.64 279.5,1768.65 283.5,1768.65 287.5,1768.66 291.5,1768.66 295.5,1768.67 299.5,1768.68 303.5,1768.68 307.5,1768.69 311.5,1768.69 315.5,1768.70 319.5,1768.70 323.5,1768.71 327.5,1768.72 331.5,1768.72 335.5,1768.73 339.5,1768.73 343.5,1768.74 347.5,1768.74 351.5,1768.75 355.5,1768.75 359.5,1768.76 363.5,1768.76 367.5,1768.77 371.5,1768.78 375.5,1768.78 379.5,1768.79 383.5,1768.79 387.5,1768.80 391.5,1768.80 395.5,1768.81 399.5,1768.81 403.5,1768.82 407.5,1768.82 411.5,1768.83 415.5,1768.83 419.5,1768.84 423.5,1768.84 427.5,1768.85 431.5,1768.85 435.5,1768.86 439.5,1768.86 443.5,1768.87 447.5,1768.87 451.5,1768.88 455.5,1768.88 459.5,1768.88 463.5,1768.89 467.5,1768.89 471.5,1768.90 475.5,1768.90 479.5,1768.90 483.5,1768.91 487.5,1768.91 491.5,1768.91 495.5,1768.92 499.5,1768.92 503.5,1768.92 507.5,1768.92 511.5,1768.92 515.5,1768.93 519.5,1768.93 523.5,1768.93 527.5,1768.93 531.5,1768.93 535.5,1768.93 539.5,1768.93 543.5,1768.93 547.5,1768.92 551.5,1768.92 555.5,1768.91 559.5,1768.91 563.5,1768.90 567.5,1768.89 571.5,1768.88 575.5,1768.87 579.5,1768.86 583.5,1768.84 587.5,1768.82 591.5,1768.79 595.5,1768.76 599.5,1768.73 603.5,1768.68 605.0,1768.66 606.5,1768.64 608.0,1768.62 609.5,1768.60 611.0,1768.57 612.5,1768.55 614.0,1768.52 615.5,1768.49 617.0,1768.45 618.5,1768.41 620.0,1768.37 621.5,1768.33 623.0,1768.28 624.5,1768.22 626.0,1768.16 627.5,1768.10 629.0,1768.02 630.5,1767.94 632.0,1767.85 633.5,1767.75 635.0,1767.64 636.5,1767.51 637.0,1767.46 637.5,1767.41 638.0,1767.36 638.5,1767.31 639.0,1767.26 639.5,1767.20 640.0,1767.14 640.5,1767.08 641.0,1767.01 641.5,1766.94 642.0,1766.87 642.5,1766.80 643.0,1766.72 643.5,1766.64 644.0,1766.55 644.5,1766.46 645.0,1766.36 645.5,1766.26 646.0,1766.16 646.5,1766.05 647.0,1765.93 647.5,1765.80 648.0,1765.67 648.5,1765.54 649.0,1765.39 649.5,1765.24 650.0,1765.07 650.5,1764.90 651.0,1764.72 651.5,1764.52 652.0,1764.32 652.5,1764.10 653.0,1763.86 653.5,1763.62 654.0,1763.35 654.5,1763.07 655.0,1762.77 655.5,1762.45 656.0,1762.11 656.5,1761.74 657.0,1761.36 657.5,1760.94 658.0,1760.49 658.5,1760.01 659.0,1759.49 659.5,1758.89 660.0,1758.17 660.5,1757.23 661.0,1755.90 661.5,1753.92 662.0,1750.94 662.5,1746.52 663.0,1740.24 663.5,1731.76 664.0,1720.95 664.5,1707.95 665.0,1693.22 665.5,1677.49 666.0,1661.65 666.5,1646.61 667.0,1633.17 667.5,1621.89 668.0,1613.07 668.5,1606.72 669.0,1602.62 669.5,1600.36 670.0,1599.43 670.5,1599.25 671.0,1599.43 671.5,1600.36 672.0,1602.62 672.5,1606.72 673.0,1613.07 673.5,1621.89 674.0,1633.17 674.5,1646.62 675.0,1661.66 675.5,1677.50 676.0,1693.23 676.5,1707.96 677.0,1720.96 677.5,1731.77 678.0,1740.25 678.5,1746.53 679.0,1750.95 679.5,1753.94 680.0,1755.92 680.5,1757.25 681.0,1758.19 681.5,1758.91 682.0,1759.51 682.5,1760.04 683.0,1760.52 683.5,1760.96 684.0,1761.38 684.5,1761.77 685.0,1762.14 685.5,1762.48 686.0,1762.80 686.5,1763.10 687.0,1763.38 687.5,1763.65 688.0,1763.90 688.5,1764.13 689.0,1764.35 689.5,1764.56 690.0,1764.75 690.5,1764.94 691.0,1765.11 691.5,1765.28 692.0,1765.43 692.5,1765.58 693.0,1765.72 693.5,1765.85 694.0,1765.97 694.5,1766.09 695.0,1766.20 695.5,1766.31 696.0,1766.41 696.5,1766.51 697.0,1766.60 697.5,1766.69 698.0,1766.77 698.5,1766.85 699.0,1766.92 699.5,1767.00 700.0,1767.06 700.5,1767.13 701.0,1767.19 701.5,1767.25 702.0,1767.31 702.5,1767.37 703.0,1767.42 703.5,1767.47 704.0,1767.52 704.5,1767.57 705.0,1767.61 705.5,1767.66 707.0,1767.78 708.5,1767.88 710.0,1767.98 711.5,1768.07 713.0,1768.14 714.5,1768.22 716.0,1768.28 717.5,1768.34 719.0,1768.39 720.5,1768.44 722.0,1768.48 722.5,1768.50 723.0,1768.51 723.5,1768.52 724.0,1768.53 724.5,1768.55 725.0,1768.56 725.5,1768.57 726.0,1768.58 726.5,1768.59 727.0,1768.60 727.5,1768.61 728.0,1768.62 728.5,1768.63 729.0,1768.64 729.5,1768.65 730.0,1768.66 730.5,1768.67 731.0,1768.68 731.5,1768.68 732.0,1768.69 732.5,1768.70 733.0,1768.71 733.5,1768.71 734.0,1768.72 734.5,1768.73 735.0,1768.73 735.5,1768.74 736.0,1768.74 736.5,1768.75 737.0,1768.75 737.5,1768.76 738.0,1768.76 738.5,1768.77 739.0,1768.77 739.5,1768.78 740.0,1768.78 740.5,1768.78 741.0,1768.79 741.5,1768.79 742.0,1768.79 742.5,1768.79 743.0,1768.79 743.5,1768.79 744.0,1768.79 744.5,1768.79 745.0,1768.78 745.5,1768.78 746.0,1768.77 746.5,1768.76 747.0,1768.74 747.5,1768.71 748.0,1768.68 748.5,1768.63 749.0,1768.58 749.5,1768.51 750.0,1768.42 750.5,1768.32 751.0,1768.20 751.5,1768.06 752.0,1767.91 752.5,1767.75 753.0,1767.58 753.5,1767.42 754.0,1767.26 754.5,1767.12 755.0,1767.02 755.5,1766.95 756.0,1766.93 756.5,1766.95 757.0,1767.02 757.5,1767.14 758.0,1767.28 758.5,1767.43 759.0,1767.60 759.5,1767.77 760.0,1767.94 760.5,1768.09 761.0,1768.23 761.5,1768.36 762.0,1768.46 762.5,1768.55 763.0,1768.63 763.5,1768.69 764.0,1768.74 764.5,1768.77 765.0,1768.80 765.5,1768.83 766.0,1768.84 766.5,1768.86 767.0,1768.87 767.5,1768.87 768.0,1768.88 768.5,1768.88 769.0,1768.89 769.5,1768.89 770.0,1768.89 770.5,1768.90 771.0,1768.90 771.5,1768.90 772.0,1768.90 772.5,1768.90 773.0,1768.90 773.5,1768.90 774.0,1768.90 774.5,1768.90 775.0,1768.90 775.5,1768.90 776.0,1768.90 776.5,1768.90 777.0,1768.89 777.5,1768.89 778.0,1768.89 778.5,1768.89 779.0,1768.89 779.5,1768.88 780.0,1768.88 780.5,1768.88 781.0,1768.87 781.5,1768.87 782.0,1768.87 782.5,1768.86 783.0,1768.86 783.5,1768.86 784.0,1768.85 784.5,1768.85 785.0,1768.84 785.5,1768.84 786.0,1768.83 786.5,1768.83 787.0,1768.82 787.5,1768.81 788.0,1768.81 788.5,1768.80 789.0,1768.79 789.5,1768.79 790.0,1768.78 790.5,1768.77 791.0,1768.76 792.5,1768.74 794.0,1768.71 795.5,1768.67 797.0,1768.64 798.5,1768.59 800.0,1768.55 801.5,1768.49 803.0,1768.43 804.5,1768.37 806.0,1768.29 806.5,1768.26 807.0,1768.23 807.5,1768.20 808.0,1768.17 808.5,1768.14 809.0,1768.10 809.5,1768.07 810.0,1768.03 810.5,1767.99 811.0,1767.95 811.5,1767.90 812.0,1767.86 812.5,1767.81 813.0,1767.76 813.5,1767.71 814.0,1767.65 814.5,1767.60 815.0,1767.54 815.5,1767.47 816.0,1767.40 816.5,1767.33 817.0,1767.26 817.5,1767.18 818.0,1767.10 818.5,1767.01 819.0,1766.92 819.5,1766.82 820.0,1766.72 820.5,1766.61 821.0,1766.49 821.5,1766.37 822.0,1766.24 822.5,1766.10 823.0,1765.96 823.5,1765.80 824.0,1765.64 824.5,1765.46 825.0,1765.28 825.5,1765.08 826.0,1764.87 826.5,1764.65 827.0,1764.41 827.5,1764.15 828.0,1763.85 828.5,1763.49 829.0,1763.03 829.5,1762.40 830.0,1761.49 830.5,1760.17 831.0,1758.27 831.5,1755.62 832.0,1752.06 832.5,1747.48 833.0,1741.88 833.5,1735.36 834.0,1728.12 834.5,1720.48 835.0,1712.78 835.5,1705.40 836.0,1698.67 836.5,1692.84 837.0,1688.07 837.5,1684.39 838.0,1681.78 838.5,1680.10 839.0,1679.18 839.5,1678.80 840.0,1678.72 840.5,1678.80 841.0,1679.19 841.5,1680.11 842.0,1681.79 842.5,1684.41 843.0,1688.08 843.5,1692.86 844.0,1698.69 844.5,1705.43 845.0,1712.81 845.5,1720.50 846.0,1728.15 846.5,1735.39 847.0,1741.92 847.5,1747.52 848.0,1752.10 848.5,1755.66 849.0,1758.32 849.5,1760.22 850.0,1761.54 850.5,1762.45 851.0,1763.08 851.5,1763.54 852.0,1763.91 852.5,1764.21 853.0,1764.47 853.5,1764.72 854.0,1764.94 854.5,1765.15 855.0,1765.35 855.5,1765.54 856.0,1765.72 856.5,1765.88 857.0,1766.04 857.5,1766.19 858.0,1766.33 858.5,1766.46 859.0,1766.58 859.5,1766.70 860.0,1766.81 860.5,1766.92 861.0,1767.02 861.5,1767.11 862.0,1767.20 862.5,1767.29 863.0,1767.37 863.5,1767.45 864.0,1767.52 864.5,1767.59 865.0,1767.66 865.5,1767.72 866.0,1767.78 866.5,1767.84 867.0,1767.89 867.5,1767.95 868.0,1768.00 868.5,1768.04 869.0,1768.09 869.5,1768.13 870.0,1768.18 870.5,1768.22 871.0,1768.26 871.5,1768.29 872.0,1768.33 872.5,1768.36 873.0,1768.40 873.5,1768.43 874.0,1768.46 874.5,1768.49 875.0,1768.52 876.5,1768.59 878.0,1768.66 879.5,1768.73 881.0,1768.79 882.5,1768.84 884.0,1768.89 885.5,1768.93 887.0,1768.97 888.5,1769.01 890.0,1769.04 891.5,1769.07 893.0,1769.10 894.5,1769.13 896.0,1769.15 897.5,1769.18 899.0,1769.20 900.5,1769.22 902.0,1769.24 903.5,1769.26 905.0,1769.27 906.5,1769.29 908.0,1769.30 909.5,1769.32 911.0,1769.33 915.0,1769.37 919.0,1769.40 923.0,1769.42 927.0,1769.45 931.0,1769.47 935.0,1769.49 939.0,1769.51 943.0,1769.52 947.0,1769.54 951.0,1769.55 955.0,1769.57 959.0,1769.58 963.0,1769.59 967.0,1769.61 971.0,1769.62 975.0,1769.63 979.0,1769.64 983.0,1769.65 987.0,1769.66 991.0,1769.67 995.0,1769.68 999.0,1769.69 1003.0,1769.70 1007.0,1769.71 1011.0,1769.72 1015.0,1769.72 1019.0,1769.73 1023.0,1769.74 1027.0,1769.75 1031.0,1769.76 1035.0,1769.76 1039.0,1769.77 1043.0,1769.78 1047.0,1769.79 1051.0,1769.80 1055.0,1769.80 1059.0,1769.81 1063.0,1769.82 1067.0,1769.82 1071.0,1769.83 1075.0,1769.84 1079.0,1769.85 1083.0,1769.85 1087.0,1769.86 1091.0,1769.87 1095.0,1769.87 1099.0,1769.88 1103.0,1769.89 1107.0,1769.89 1111.0,1769.90 1115.0,1769.91 1119.0,1769.91 1123.0,1769.92 1127.0,1769.93 1131.0,1769.93 1135.0,1769.94 1139.0,1769.95 1143.0,1769.95 1147.0,1769.96 1151.0,1769.97 1155.0,1769.97 1159.0,1769.98 1163.0,1769.98 1167.0,1769.99 1171.0,1770.00 1175.0,1770.00 1179.0,1770.01 1183.0,1770.02 1187.0,1770.02 1191.0,1770.03 1195.0,1770.03 1199.0,1770.04 1203.0,1770.04 1207.0,1770.05 1211.0,1770.06 1215.0,1770.06 1219.0,1770.07 1223.0,1770.07 1227.0,1770.08 1231.0,1770.08 1235.0,1770.09 1239.0,1770.10 1243.0,1770.10 1247.0,1770.11 1251.0,1770.11 1255.0,1770.12 1259.0,1770.12 1263.0,1770.13 1267.0,1770.13 1271.0,1770.13 1275.0,1770.14 1279.0,1770.14 1283.0,1770.15 1287.0,1770.15 1291.0,1770.15 1295.0,1770.16 1299.0,1770.16 1303.0,1770.16 1307.0,1770.16 1311.0,1770.16 1315.0,1770.16 1319.0,1770.16 1323.0,1770.15 1324.5,1770.15 1326.0,1770.15 1327.5,1770.15 1329.0,1770.15 1330.5,1770.14 1332.0,1770.14 1333.5,1770.14 1335.0,1770.13 1336.5,1770.13 1338.0,1770.12 1339.5,1770.12 1341.0,1770.11 1342.5,1770.10 1344.0,1770.09 1345.5,1770.08 1347.0,1770.07 1348.5,1770.06 1350.0,1770.05 1351.5,1770.04 1353.0,1770.02 1354.5,1770.00 1356.0,1769.98 1357.5,1769.96 1359.0,1769.93 1359.5,1769.92 1360.0,1769.91 1360.5,1769.90 1361.0,1769.89 1361.5,1769.88 1362.0,1769.86 1362.5,1769.85 1363.0,1769.84 1363.5,1769.82 1364.0,1769.81 1364.5,1769.79 1365.0,1769.78 1365.5,1769.76 1366.0,1769.74 1366.5,1769.72 1367.0,1769.70 1367.5,1769.68 1368.0,1769.66 1368.5,1769.64 1369.0,1769.61 1369.5,1769.59 1370.0,1769.56 1370.5,1769.53 1371.0,1769.50 1371.5,1769.46 1372.0,1769.43 1372.5,1769.39 1373.0,1769.35 1373.5,1769.30 1374.0,1769.25 1374.5,1769.19 1375.0,1769.13 1375.5,1769.06 1376.0,1768.97 1376.5,1768.88 1377.0,1768.77 1377.5,1768.63 1378.0,1768.48 1378.5,1768.29 1379.0,1768.08 1379.5,1767.82 1380.0,1767.51 1380.5,1767.15 1381.0,1766.72 1381.5,1766.22 1382.0,1765.64 1382.5,1764.98 1383.0,1764.22 1383.5,1763.35 1384.0,1762.39 1384.5,1761.32 1385.0,1760.14 1385.5,1758.87 1386.0,1757.51 1386.5,1756.07 1387.0,1754.57 1387.5,1753.04 1388.0,1751.50 1388.5,1749.98 1389.0,1748.50 1389.5,1747.11 1390.0,1745.84 1390.5,1744.71 1391.0,1743.76 1391.5,1743.02 1392.0,1742.51 1392.5,1742.23 1393.0,1742.21 1393.5,1742.43 1394.0,1742.90 1394.5,1743.60 1395.0,1744.51 1395.5,1745.61 1396.0,1746.86 1396.5,1748.23 1397.0,1749.69 1397.5,1751.21 1398.0,1752.75 1398.5,1754.29 1399.0,1755.79 1399.5,1757.24 1400.0,1758.62 1400.5,1759.92 1401.0,1761.11 1401.5,1762.21 1402.0,1763.20 1402.5,1764.08 1403.0,1764.86 1403.5,1765.55 1404.0,1766.15 1404.5,1766.66 1405.0,1767.10 1405.5,1767.48 1406.0,1767.80 1406.5,1768.07 1407.0,1768.30 1407.5,1768.49 1408.0,1768.65 1408.5,1768.79 1409.0,1768.91 1409.5,1769.01 1410.0,1769.09 1410.5,1769.17 1411.0,1769.24 1411.5,1769.30 1412.0,1769.35 1412.5,1769.40 1413.0,1769.44 1413.5,1769.48 1414.0,1769.52 1414.5,1769.56 1415.0,1769.59 1415.5,1769.62 1416.0,1769.65 1416.5,1769.68 1417.0,1769.71 1417.5,1769.73 1418.0,1769.75 1418.5,1769.78 1419.0,1769.80 1419.5,1769.82 1420.0,1769.84 1420.5,1769.86 1421.0,1769.88 1421.5,1769.89 1422.0,1769.91 1422.5,1769.93 1423.0,1769.94 1423.5,1769.95 1424.0,1769.97 1424.5,1769.98 1425.0,1769.99 1425.5,1770.01 1426.0,1770.02 1426.5,1770.03 1427.0,1770.04 1427.5,1770.05 1428.0,1770.06 1429.5,1770.09 1431.0,1770.12 1432.5,1770.14 1434.0,1770.16 1435.5,1770.18 1437.0,1770.20 1438.5,1770.21 1440.0,1770.23 1441.5,1770.24 1443.0,1770.25 1444.5,1770.27 1446.0,1770.28 1447.5,1770.29 1449.0,1770.30 1450.5,1770.31 1452.0,1770.32 1453.5,1770.32 1455.0,1770.33 1456.5,1770.34 1458.0,1770.35 1459.5,1770.35 1461.0,1770.36 1462.5,1770.37 1464.0,1770.37 1468.0,1770.39 1472.0,1770.40 1476.0,1770.41 1480.0,1770.43 1484.0,1770.44 1488.0,1770.45 1492.0,1770.46 1496.0,1770.47 1500.0,1770.48 1504.0,1770.48 1508.0,1770.49 1512.0,1770.50 1516.0,1770.51 1520.0,1770.52 1524.0,1770.52 1528.0,1770.53 1532.0,1770.54 1536.0,1770.54 1540.0,1770.55 1544.0,1770.56 1548.0,1770.56 1552.0,1770.57 1556.0,1770.58 1560.0,1770.58 1564.0,1770.59 1568.0,1770.60 1572.0,1770.60 1576.0,1770.61 1580.0,1770.61 1584.0,1770.62 1588.0,1770.62 1592.0,1770.63 1596.0,1770.63 1600.0,1770.64 1604.0,1770.64 1608.0,1770.65 1612.0,1770.65 1616.0,1770.66 1620.0,1770.66 1624.0,1770.67 1628.0,1770.67 1632.0,1770.67 1636.0,1770.68 1640.0,1770.68 1644.0,1770.68 1648.0,1770.68 1652.0,1770.68 1656.0,1770.68 1660.0,1770.68 1664.0,1770.68 1668.0,1770.68 1672.0,1770.68 1676.0,1770.67 1680.0,1770.66 1681.5,1770.66 1683.0,1770.66 1684.5,1770.65 1686.0,1770.65 1687.5,1770.64 1689.0,1770.64 1690.5,1770.63 1692.0,1770.63 1693.5,1770.62 1695.0,1770.61 1696.5,1770.60 1698.0,1770.59 1699.5,1770.58 1701.0,1770.57 1702.5,1770.55 1704.0,1770.54 1705.5,1770.52 1707.0,1770.50 1708.5,1770.48 1710.0,1770.46 1711.5,1770.43 1713.0,1770.40 1714.5,1770.37 1715.0,1770.36 1715.5,1770.34 1716.0,1770.33 1716.5,1770.32 1717.0,1770.30 1717.5,1770.29 1718.0,1770.27 1718.5,1770.26 1719.0,1770.24 1719.5,1770.22 1720.0,1770.20 1720.5,1770.18 1721.0,1770.16 1721.5,1770.14 1722.0,1770.12 1722.5,1770.10 1723.0,1770.07 1723.5,1770.04 1724.0,1770.01 1724.5,1769.98 1725.0,1769.95 1725.5,1769.91 1726.0,1769.88 1726.5,1769.83 1727.0,1769.78 1727.5,1769.73 1728.0,1769.67 1728.5,1769.61 1729.0,1769.53 1729.5,1769.45 1730.0,1769.35 1730.5,1769.24 1731.0,1769.11 1731.5,1768.96 1732.0,1768.80 1732.5,1768.60 1733.0,1768.38 1733.5,1768.13 1734.0,1767.85 1734.5,1767.52 1735.0,1767.15 1735.5,1766.74 1736.0,1766.28 1736.5,1765.76 1737.0,1765.19 1737.5,1764.56 1738.0,1763.87 1738.5,1763.13 1739.0,1762.32 1739.5,1761.46 1740.0,1760.54 1740.5,1759.58 1741.0,1758.57 1741.5,1757.52 1742.0,1756.46 1742.5,1755.37 1743.0,1754.29 1743.5,1753.21 1744.0,1752.16 1744.5,1751.14 1745.0,1750.19 1745.5,1749.30 1746.0,1748.49 1746.5,1747.78 1747.0,1747.19 1747.5,1746.71 1748.0,1746.36 1748.5,1746.15 1749.0,1746.08 1749.5,1746.15 1750.0,1746.37 1750.5,1746.71 1751.0,1747.19 1751.5,1747.79 1752.0,1748.50 1752.5,1749.31 1753.0,1750.20 1753.5,1751.16 1754.0,1752.17 1754.5,1753.22 1755.0,1754.30 1755.5,1755.39 1756.0,1756.47 1756.5,1757.54 1757.0,1758.59 1757.5,1759.60 1758.0,1760.57 1758.5,1761.48 1759.0,1762.35 1759.5,1763.16 1760.0,1763.90 1760.5,1764.59 1761.0,1765.22 1761.5,1765.80 1762.0,1766.31 1762.5,1766.78 1763.0,1767.19 1763.5,1767.56 1764.0,1767.89 1764.5,1768.18 1765.0,1768.43 1765.5,1768.65 1766.0,1768.84 1766.5,1769.01 1767.0,1769.16 1767.5,1769.29 1768.0,1769.40 1768.5,1769.50 1769.0,1769.59 1769.5,1769.66 1770.0,1769.73 1770.5,1769.79 1771.0,1769.84 1771.5,1769.89 1772.0,1769.94 1772.5,1769.98 1773.0,1770.02 1773.5,1770.05 1774.0,1770.08 1774.5,1770.11 1775.0,1770.14 1775.5,1770.17 1776.0,1770.19 1776.5,1770.22 1777.0,1770.24 1777.5,1770.26 1778.0,1770.28 1778.5,1770.30 1779.0,1770.32 1779.5,1770.34 1780.0,1770.36 1780.5,1770.37 1781.0,1770.39 1781.5,1770.41 1782.0,1770.42 1782.5,1770.43 1783.0,1770.45 1783.5,1770.46 1784.0,1770.47 1785.5,1770.51 1787.0,1770.54 1788.5,1770.57 1790.0,1770.60 1791.5,1770.62 1793.0,1770.64 1794.5,1770.66 1796.0,1770.68 1797.5,1770.70 1799.0,1770.71 1800.5,1770.73 1802.0,1770.74 1803.5,1770.75 1805.0,1770.76 1806.5,1770.77 1808.0,1770.78 1809.5,1770.79 1811.0,1770.80 1812.5,1770.80 1814.0,1770.81 1815.5,1770.81 1817.0,1770.82 1818.5,1770.82 1820.0,1770.83 1821.5,1770.83 1823.0,1770.83 1824.5,1770.83 1826.0,1770.83 1827.5,1770.83 1829.0,1770.83 1829.5,1770.83 1830.0,1770.83 1830.5,1770.83 1831.0,1770.83 1831.5,1770.82 1832.0,1770.82 1832.5,1770.82 1833.0,1770.82 1833.5,1770.82 1834.0,1770.81 1834.5,1770.81 1835.0,1770.81 1835.5,1770.81 1836.0,1770.80 1836.5,1770.80 1837.0,1770.80 1837.5,1770.79 1838.0,1770.79 1838.5,1770.78 1839.0,1770.78 1839.5,1770.77 1840.0,1770.77 1840.5,1770.76 1841.0,1770.75 1841.5,1770.74 1842.0,1770.73 1842.5,1770.72 1843.0,1770.71 1843.5,1770.69 1844.0,1770.68 1844.5,1770.66 1845.0,1770.63 1845.5,1770.61 1846.0,1770.58 1846.5,1770.54 1847.0,1770.50 1847.5,1770.45 1848.0,1770.40 1848.5,1770.34 1849.0,1770.27 1849.5,1770.19 1850.0,1770.10 1850.5,1770.00 1851.0,1769.89 1851.5,1769.77 1852.0,1769.63 1852.5,1769.49 1853.0,1769.33 1853.5,1769.15 1854.0,1768.97 1854.5,1768.77 1855.0,1768.56 1855.5,1768.34 1856.0,1768.12 1856.5,1767.89 1857.0,1767.65 1857.5,1767.42 1858.0,1767.18 1858.5,1766.96 1859.0,1766.74 1859.5,1766.53 1860.0,1766.34 1860.5,1766.16 1861.0,1766.01 1861.5,1765.88 1862.0,1765.78 1862.5,1765.71 1863.0,1765.66 1863.5,1765.65 1864.0,1765.66 1864.5,1765.71 1865.0,1765.79 1865.5,1765.89 1866.0,1766.02 1866.5,1766.18 1867.0,1766.35 1867.5,1766.55 1868.0,1766.76 1868.5,1766.98 1869.0,1767.21 1869.5,1767.44 1870.0,1767.68 1870.5,1767.92 1871.0,1768.15 1871.5,1768.38 1872.0,1768.60 1872.5,1768.81 1873.0,1769.01 1873.5,1769.20 1874.0,1769.38 1874.5,1769.54 1875.0,1769.69 1875.5,1769.83 1876.0,1769.95 1876.5,1770.07 1877.0,1770.17 1877.5,1770.26 1878.0,1770.34 1878.5,1770.41 1879.0,1770.47 1879.5,1770.53 1880.0,1770.58 1880.5,1770.62 1881.0,1770.66 1881.5,1770.69 1882.0,1770.72 1882.5,1770.75 1883.0,1770.77 1883.5,1770.79 1884.0,1770.81 1884.5,1770.82 1885.0,1770.84 1885.5,1770.85 1886.0,1770.86 1886.5,1770.87 1887.0,1770.88 1887.5,1770.89 1888.0,1770.90 1888.5,1770.91 1889.0,1770.91 1889.5,1770.92 1890.0,1770.93 1890.5,1770.93 1891.0,1770.94 1891.5,1770.95 1892.0,1770.95 1892.5,1770.96 1893.0,1770.96 1893.5,1770.97 1894.0,1770.97 1894.5,1770.98 1895.0,1770.98 1895.5,1770.98 1896.0,1770.99 1896.5,1770.99 1897.0,1771.00 1897.5,1771.00 1898.0,1771.00 1898.5,1771.01 1900.0,1771.02 1901.5,1771.03 1903.0,1771.04 1904.5,1771.04 1906.0,1771.05 1907.5,1771.06 1909.0,1771.07 1910.5,1771.07 1912.0,1771.08 1913.5,1771.08 1915.0,1771.09 1916.5,1771.10 1918.0,1771.10 1919.5,1771.11 1921.0,1771.11 1922.5,1771.12 1924.0,1771.12 1925.5,1771.12 1927.0,1771.13 1928.5,1771.13 1930.0,1771.14 1931.5,1771.14 1933.0,1771.14 1934.5,1771.15 1937.0,1771.15" fill="none" stroke="#000000" stroke-width="6.0" stroke-linejoin="round" stroke-linecap="butt"/>
<g fill="#000">
<rect x="169" y="32" width="1772" height="5"/>
<rect x="169" y="32" width="5" height="1798"/>
<rect x="1934.3" y="32" width="6.2" height="1781"/>
<rect x="169" y="1789" width="1772" height="5.5"/>
<rect x="439.5" y="1792" width="5.8" height="38"/>
<rect x="711.4" y="1792" width="5.8" height="38"/>
<rect x="983.2" y="1792" width="5.8" height="38"/>
<rect x="1255.1" y="1792" width="5.8" height="38"/>
<rect x="1526.9" y="1792" width="5.8" height="38"/>
<rect x="1798.8" y="1792" width="5.8" height="38"/>
<rect x="303.6" y="1792" width="5.8" height="21"/>
<rect x="575.5" y="1792" width="5.8" height="21"/>
<rect x="847.3" y="1792" width="5.8" height="21"/>
<rect x="1119.2" y="1792" width="5.8" height="21"/>
<rect x="1391.0" y="1792" width="5.8" height="21"/>
<rect x="1662.9" y="1792" width="5.8" height="21"/>
</g>
<line x1="186" y1="1109.4" x2="1934" y2="1109.4" stroke="#000" stroke-width="3" stroke-dasharray="6 12.15"/>
<text style="font-kerning:none" transform="translate(117.25,1927.40) scale(1,1.0210)" font-family='"Liberation Sans", Arial, sans-serif' font-weight="400" font-size="95.00" fill="#000" stroke="#fff" stroke-width="0.9">20</text>
<text style="font-kerning:none" transform="translate(389.67,1927.40) scale(1,1.0210)" font-family='"Liberation Sans", Arial, sans-serif' font-weight="400" font-size="95.00" fill="#000" stroke="#fff" stroke-width="0.9">30</text>
<text style="font-kerning:none" transform="translate(662.23,1927.40) scale(1,1.0210)" font-family='"Liberation Sans", Arial, sans-serif' font-weight="400" font-size="95.00" fill="#000" stroke="#fff" stroke-width="0.9">40</text>
<text style="font-kerning:none" transform="translate(933.27,1927.40) scale(1,1.0210)" font-family='"Liberation Sans", Arial, sans-serif' font-weight="400" font-size="95.00" fill="#000" stroke="#fff" stroke-width="0.9">50</text>
<text style="font-kerning:none" transform="translate(1204.60,1927.40) scale(1,1.0210)" font-family='"Liberation Sans", Arial, sans-serif' font-weight="400" font-size="95.00" fill="#000" stroke="#fff" stroke-width="0.9">60</text>
<text style="font-kerning:none" transform="translate(1476.45,1927.40) scale(1,1.0210)" font-family='"Liberation Sans", Arial, sans-serif' font-weight="400" font-size="95.00" fill="#000" stroke="#fff" stroke-width="0.9">70</text>
<text style="font-kerning:none" transform="translate(1748.67,1927.40) scale(1,1.0210)" font-family='"Liberation Sans", Arial, sans-serif' font-weight="400" font-size="95.00" fill="#000" stroke="#fff" stroke-width="0.9">80</text>
<text style="font-kerning:none" transform="translate(804.73,2072.30) scale(1,1.0212)" font-family='"Liberation Sans", Arial, sans-serif' font-weight="400" font-size="95.39" fill="#000" stroke="#fff" stroke-width="0.9">2</text>
<text style="font-kerning:none" transform="translate(860.63,2074.80) scale(1,1.0668)" font-family='"Liberation Serif", "Times New Roman", serif' font-weight="400" font-size="84.53" fill="#000">Θ</text>
<text style="font-kerning:none" transform="translate(944.39,2072.09) scale(1,0.9030)" font-family='"Liberation Serif", "Times New Roman", serif' font-weight="400" font-size="95.72" fill="#000">(</text>
<text style="font-kerning:none" transform="translate(974.87,2071.80) scale(1,0.9633)" font-family='"Liberation Sans", Arial, sans-serif' font-weight="400" font-size="95.94" fill="#000" stroke="#fff" stroke-width="0.9">degree</text>
<text style="font-kerning:none" transform="translate(1272.59,2072.14) scale(1,0.9156)" font-family='"Liberation Serif", "Times New Roman", serif' font-weight="400" font-size="94.16" fill="#000">)</text>
<text style="font-kerning:none" transform="translate(103.30,1350.89) rotate(-90) scale(1,1.0000)" font-family='"Liberation Sans", Arial, sans-serif' font-weight="400" font-size="94.49" fill="#000" stroke="#fff" stroke-width="0.9">Intensity</text>
<text style="font-kerning:none" transform="translate(103.56,969.30) rotate(-90) scale(1,1.1436)" font-family='"Liberation Serif", "Times New Roman", serif' font-weight="400" font-size="86.38" fill="#000">(</text>
<text style="font-kerning:none" transform="translate(103.30,940.09) rotate(-90) scale(1,1.0000)" font-family='"Liberation Sans", Arial, sans-serif' font-weight="400" font-size="95.12" fill="#000" stroke="#fff" stroke-width="0.9">arb. units</text>
<text style="font-kerning:none" transform="translate(104.02,543.89) rotate(-90) scale(1,1.1833)" font-family='"Liberation Serif", "Times New Roman", serif' font-weight="400" font-size="84.05" fill="#000">)</text>
<text style="font-kerning:none" transform="translate(180.17,585.00) scale(1,1.0550)" font-family='"Liberation Sans", Arial, sans-serif' font-weight="400" font-size="67.23" fill="#000" stroke="#fff" stroke-width="0.9">A_0.05TiC/CNT</text>
<text style="font-kerning:none" transform="translate(177.27,807.80) scale(1,1.0495)" font-family='"Liberation Sans", Arial, sans-serif' font-weight="400" font-size="67.03" fill="#000" stroke="#fff" stroke-width="0.9">A_0.05CNT</text>
<text style="font-kerning:none" transform="translate(181.87,1009.60) scale(1,1.0127)" font-family='"Liberation Sans", Arial, sans-serif' font-weight="400" font-size="67.46" fill="#000" stroke="#fff" stroke-width="0.9">A_un</text>
<text style="font-kerning:none" transform="translate(182.87,1352.90) scale(1,1.0467)" font-family='"Liberation Sans", Arial, sans-serif' font-weight="400" font-size="66.93" fill="#000" stroke="#fff" stroke-width="0.9">A_0.05TiC/CNT</text>
<text style="font-kerning:none" transform="translate(180.27,1557.10) scale(1,1.0429)" font-family='"Liberation Sans", Arial, sans-serif' font-weight="400" font-size="66.90" fill="#000" stroke="#fff" stroke-width="0.9">A_0.05CNT</text>
<text style="font-kerning:none" transform="translate(184.67,1723.50) scale(1,0.9965)" font-family='"Liberation Sans", Arial, sans-serif' font-weight="400" font-size="67.24" fill="#000" stroke="#fff" stroke-width="0.9">A_un</text>
<text style="font-kerning:none" transform="translate(193.39,262.70) scale(1,1.0053)" font-family='"Liberation Sans", Arial, sans-serif' font-weight="700" font-size="84.93" fill="#000">bulk</text>
<rect x="193.3" y="271.7" width="177.2" height="7.7" fill="#000"/>
<text style="font-kerning:none" transform="translate(192.65,1201.80) scale(1,0.9631)" font-family='"Liberation Sans", Arial, sans-serif' font-weight="700" font-size="87.08" fill="#000">powder</text>
<rect x="193.2" y="1211.9" width="308.4" height="7.9" fill="#000"/>
<text style="font-kerning:none" transform="translate(613.92,317.30) scale(1,0.9842)" font-family='"Liberation Sans", Arial, sans-serif' font-weight="700" font-size="87.28" fill="#000">Al</text>
<text style="font-kerning:none" transform="translate(791.23,434.30) scale(1,1.0274)" font-family='"Liberation Sans", Arial, sans-serif' font-weight="700" font-size="86.73" fill="#000">Al</text>
<text style="font-kerning:none" transform="translate(1342.05,491.90) scale(1,1.0000)" font-family='"Liberation Sans", Arial, sans-serif' font-weight="700" font-size="89.82" fill="#000">Al</text>
<text style="font-kerning:none" transform="translate(1690.81,287.40) scale(1,1.0286)" font-family='"Liberation Sans", Arial, sans-serif' font-weight="700" font-size="87.61" fill="#000">Al</text>
<text style="font-kerning:none" transform="translate(1783.83,489.20) scale(1,0.9892)" font-family='"Liberation Sans", Arial, sans-serif' font-weight="700" font-size="86.84" fill="#000">Al</text>
<text style="font-kerning:none" transform="translate(565.25,428.20) scale(1,1.0409)" font-family='"Liberation Sans", Arial, sans-serif' font-weight="700" font-size="85.04" fill="#000">(111)</text>
<rect x="596.92" y="418.17" width="16.49" height="11.03" fill="#fff"/>
<rect x="625.08" y="418.17" width="15.41" height="11.03" fill="#fff"/>
<rect x="644.21" y="418.17" width="16.49" height="11.03" fill="#fff"/>
<rect x="672.37" y="418.17" width="15.41" height="11.03" fill="#fff"/>
<rect x="691.51" y="418.17" width="16.49" height="11.03" fill="#fff"/>
<rect x="719.67" y="418.17" width="15.41" height="11.03" fill="#fff"/>
<text style="font-kerning:none" transform="translate(742.58,542.30) scale(1,1.0228)" font-family='"Liberation Sans", Arial, sans-serif' font-weight="700" font-size="84.47" fill="#000">(200)</text>
<text style="font-kerning:none" transform="translate(1295.24,600.60) scale(1,1.0147)" font-family='"Liberation Sans", Arial, sans-serif' font-weight="700" font-size="85.14" fill="#000">(220)</text>
<text style="font-kerning:none" transform="translate(1642.35,396.50) scale(1,1.0517)" font-family='"Liberation Sans", Arial, sans-serif' font-weight="700" font-size="85.00" fill="#000">(311)</text>
<rect x="1721.28" y="386.38" width="16.48" height="11.12" fill="#fff"/>
<rect x="1749.43" y="386.38" width="15.41" height="11.12" fill="#fff"/>
<rect x="1768.55" y="386.38" width="16.48" height="11.12" fill="#fff"/>
<rect x="1796.70" y="386.38" width="15.41" height="11.12" fill="#fff"/>
<text style="font-kerning:none" transform="translate(1735.27,598.30) scale(1,0.9913)" font-family='"Liberation Sans", Arial, sans-serif' font-weight="700" font-size="84.69" fill="#000">(222)</text>
<text style="font-kerning:none" transform="translate(1416.77,127.92) scale(1,0.9765)" font-family='"Liberation Sans", Arial, sans-serif' font-weight="700" font-size="78.18" fill="#000">*</text>
<text style="font-kerning:none" transform="translate(213.87,665.11) scale(1,0.9206)" font-family='"Liberation Sans", Arial, sans-serif' font-weight="400" font-size="76.75" fill="#000" stroke="#000" stroke-width="1.1" stroke-linejoin="round">*</text>
<text style="font-kerning:none" transform="translate(550.71,665.11) scale(1,0.8758)" font-family='"Liberation Sans", Arial, sans-serif' font-weight="400" font-size="80.67" fill="#000" stroke="#000" stroke-width="1.1" stroke-linejoin="round">*</text>
<text style="font-kerning:none" transform="translate(702.20,665.57) scale(1,0.9049)" font-family='"Liberation Sans", Arial, sans-serif' font-weight="400" font-size="81.23" fill="#000" stroke="#000" stroke-width="1.1" stroke-linejoin="round">*</text>
<text style="font-kerning:none" transform="translate(746.31,665.57) scale(1,0.9902)" font-family='"Liberation Sans", Arial, sans-serif' font-weight="400" font-size="74.23" fill="#000" stroke="#000" stroke-width="1.1" stroke-linejoin="round">*</text>
<text style="font-kerning:none" transform="translate(1485.56,140.40) scale(1,1.0085)" font-family='"Liberation Sans", Arial, sans-serif' font-weight="400" font-size="69.76" fill="#000" stroke="#fff" stroke-width="0.9">Al</text>
<text style="font-kerning:none" transform="translate(1545.39,173.30) scale(1,1.0176)" font-family='"Liberation Sans", Arial, sans-serif' font-weight="400" font-size="68.57" fill="#000" stroke="#fff" stroke-width="0.9">3</text>
<text style="font-kerning:none" transform="translate(1583.67,140.40) scale(1,1.0616)" font-family='"Liberation Sans", Arial, sans-serif' font-weight="400" font-size="66.26" fill="#000" stroke="#fff" stroke-width="0.9">Mn</text>
<text style="font-kerning:none" transform="translate(1712.60,140.40) scale(1,0.9869)" font-family='"Liberation Sans", Arial, sans-serif' font-weight="400" font-size="67.65" fill="#000" stroke="#fff" stroke-width="0.9">phase</text>
</svg>
</body></html>
